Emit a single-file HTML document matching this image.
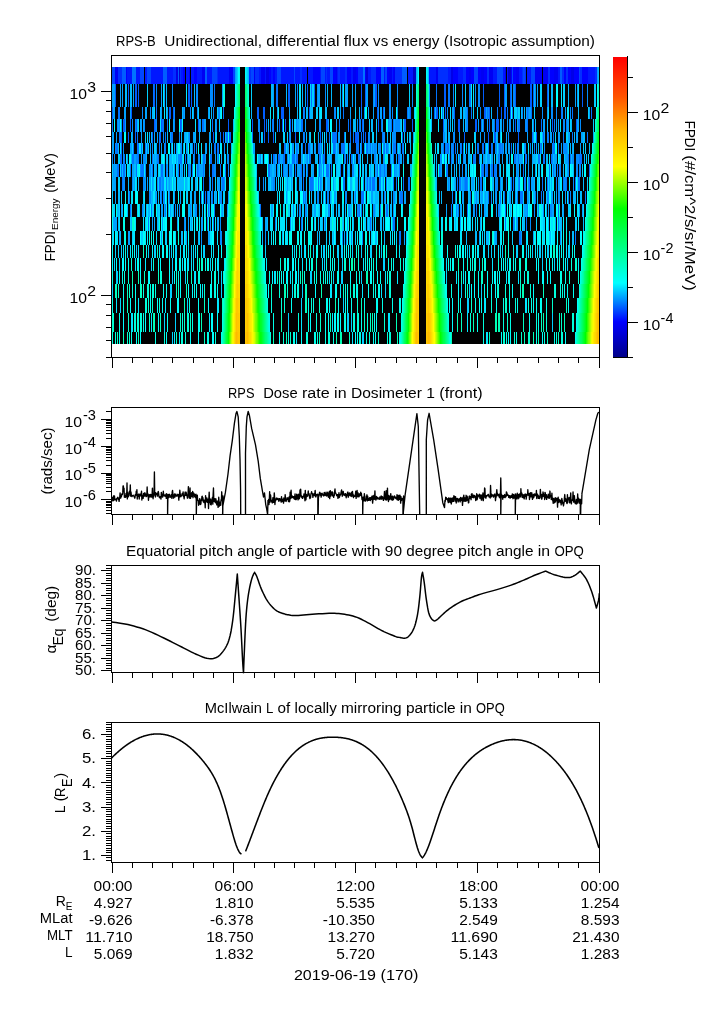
<!DOCTYPE html>
<html><head><meta charset="utf-8"><style>html,body{margin:0;padding:0;background:#fff;overflow:hidden}svg{display:block;will-change:transform}</style></head>
<body><svg width="725" height="1019" viewBox="0 0 725 1019">
<defs><linearGradient id="cb" x1="0" y1="1" x2="0" y2="0"><stop offset="0.0000" stop-color="rgb(0,0,137)"/><stop offset="0.1176" stop-color="rgb(0,0,255)"/><stop offset="0.2471" stop-color="rgb(0,255,255)"/><stop offset="0.4941" stop-color="rgb(0,255,0)"/><stop offset="0.6353" stop-color="rgb(255,255,0)"/><stop offset="0.7529" stop-color="rgb(255,185,0)"/><stop offset="0.8667" stop-color="rgb(255,84,0)"/><stop offset="1.0000" stop-color="rgb(255,0,0)"/></linearGradient></defs>
<rect width="725" height="1019" fill="#fff"/>
<rect x="112" y="67" width="487" height="277" fill="#000"/><path fill="#0046ff" d="M112 67h3v17h-3zM140 67h4v17h-4zM147 67h4v17h-4zM212 67h5v17h-5zM233 67h2v17h-2zM251 67h3v17h-3zM277 67h4v17h-4zM294 67h1v17h-1zM321 67h4v17h-4zM330 67h3v17h-3zM385 67h2v17h-2zM474 67h4v17h-4zM497 67h6v17h-6zM512 67h1v17h-1zM523 67h2v17h-2zM531 67h4v17h-4zM579 67h1v17h-1z"/><path fill="#0000f3" d="M115 67h3v17h-3zM202 67h3v17h-3zM229 67h4v17h-4zM254 67h1v17h-1zM261 67h4v17h-4zM336 67h1v17h-1zM353 67h3v17h-3zM389 67h3v17h-3zM394 67h1v17h-1zM436 67h2v17h-2zM469 67h2v17h-2zM481 67h3v17h-3zM489 67h4v17h-4zM505 67h1v17h-1zM516 67h3v17h-3zM535 67h7v17h-7zM543 67h5v17h-5zM554 67h4v17h-4z"/><path fill="#002eff" d="M118 67h4v17h-4zM173 67h3v17h-3zM180 67h1v17h-1zM217 67h1v17h-1zM249 67h2v17h-2zM255 67h4v17h-4zM300 67h2v17h-2zM326 67h1v17h-1zM338 67h2v17h-2zM345 67h2v17h-2zM358 67h5v17h-5zM371 67h5v17h-5zM395 67h7v17h-7zM438 67h10v17h-10zM463 67h3v17h-3zM487 67h2v17h-2zM522 67h1v17h-1zM525 67h1v17h-1zM548 67h2v17h-2zM562 67h2v17h-2zM566 67h2v17h-2zM580 67h2v17h-2zM595 67h2v17h-2z"/><path fill="#005dff" d="M122 67h4v17h-4zM163 67h4v17h-4zM178 67h1v17h-1zM205 67h2v17h-2zM381 67h3v17h-3zM402 67h5v17h-5zM560 67h2v17h-2zM115 84h1v23h-1zM128 84h1v23h-1zM135 84h2v23h-2zM138 84h1v23h-1zM154 84h1v23h-1zM188 84h2v23h-2zM191 84h1v23h-1zM288 84h2v23h-2zM307 84h1v23h-1zM314 84h1v23h-1zM361 84h1v23h-1zM365 84h1v23h-1zM375 84h2v23h-2zM444 84h2v23h-2zM483 84h1v23h-1zM499 84h1v23h-1zM504 84h1v23h-1zM510 84h1v23h-1zM515 84h1v23h-1zM530 84h2v23h-2zM533 84h1v23h-1zM547 84h1v23h-1zM582 84h1v23h-1zM112 107h1v12h-1zM131 107h1v12h-1zM169 107h2v12h-2zM173 107h1v12h-1zM257 107h2v12h-2zM263 107h2v12h-2zM281 107h3v12h-3zM309 107h1v12h-1zM377 107h1v12h-1zM383 107h1v12h-1zM410 107h1v12h-1zM434 107h1v12h-1zM436 107h2v12h-2zM445 107h1v12h-1zM454 107h1v12h-1zM484 107h2v12h-2zM489 107h1v12h-1zM501 107h1v12h-1zM504 107h2v12h-2zM510 107h1v12h-1zM123 119h2v13h-2zM130 119h1v13h-1zM136 119h1v13h-1zM154 119h1v13h-1zM161 119h1v13h-1zM180 119h1v13h-1zM198 119h1v13h-1zM228 119h1v13h-1zM252 119h1v13h-1zM264 119h1v13h-1zM279 119h1v13h-1zM282 119h1v13h-1zM285 119h1v13h-1zM290 119h1v13h-1zM326 119h2v13h-2zM350 119h1v13h-1zM362 119h1v13h-1zM378 119h1v13h-1zM404 119h2v13h-2zM412 119h1v13h-1zM443 119h1v13h-1zM458 119h2v13h-2zM475 119h2v13h-2zM489 119h1v13h-1zM496 119h3v13h-3zM515 119h1v13h-1zM552 119h1v13h-1zM576 119h1v13h-1zM121 132h1v11h-1zM128 132h1v11h-1zM135 132h1v11h-1zM152 132h1v11h-1zM160 132h1v11h-1zM213 132h1v11h-1zM223 132h1v11h-1zM229 132h2v11h-2zM264 132h1v11h-1zM268 132h1v11h-1zM273 132h1v11h-1zM295 132h1v11h-1zM320 132h1v11h-1zM355 132h3v11h-3zM365 132h1v11h-1zM402 132h1v11h-1zM464 132h1v11h-1zM488 132h1v11h-1zM494 132h2v11h-2zM518 132h1v11h-1zM536 132h1v11h-1zM543 132h1v11h-1z"/><path fill="#0000ff" d="M126 67h1v17h-1zM183 67h2v17h-2zM189 67h1v17h-1zM194 67h3v17h-3zM269 67h2v17h-2zM273 67h2v17h-2zM313 67h7v17h-7zM333 67h3v17h-3zM347 67h4v17h-4zM356 67h2v17h-2zM365 67h1v17h-1zM376 67h5v17h-5zM387 67h2v17h-2zM393 67h1v17h-1zM453 67h5v17h-5zM466 67h3v17h-3zM471 67h3v17h-3zM478 67h3v17h-3zM484 67h3v17h-3zM511 67h1v17h-1zM513 67h3v17h-3zM550 67h4v17h-4zM564 67h2v17h-2zM568 67h3v17h-3zM574 67h5v17h-5zM582 67h6v17h-6z"/><path fill="#0017ff" d="M127 67h5v17h-5zM136 67h4v17h-4zM145 67h2v17h-2zM151 67h12v17h-12zM167 67h6v17h-6zM181 67h2v17h-2zM186 67h3v17h-3zM191 67h3v17h-3zM197 67h5v17h-5zM207 67h5v17h-5zM218 67h11v17h-11zM259 67h2v17h-2zM265 67h1v17h-1zM271 67h2v17h-2zM275 67h2v17h-2zM281 67h13v17h-13zM295 67h5v17h-5zM302 67h5v17h-5zM308 67h5v17h-5zM320 67h1v17h-1zM325 67h1v17h-1zM327 67h3v17h-3zM337 67h1v17h-1zM340 67h5v17h-5zM351 67h2v17h-2zM368 67h3v17h-3zM384 67h1v17h-1zM392 67h1v17h-1zM408 67h5v17h-5zM429 67h7v17h-7zM448 67h3v17h-3zM458 67h5v17h-5zM493 67h4v17h-4zM503 67h2v17h-2zM507 67h1v17h-1zM519 67h3v17h-3zM527 67h4v17h-4zM558 67h2v17h-2zM588 67h7v17h-7z"/><path fill="#0074ff" d="M132 67h4v17h-4zM363 67h2v17h-2zM153 84h1v23h-1zM214 84h1v23h-1zM276 84h2v23h-2zM311 84h1v23h-1zM436 84h1v23h-1zM448 84h2v23h-2zM469 84h2v23h-2zM118 107h2v12h-2zM156 107h1v12h-1zM223 107h1v12h-1zM304 107h1v12h-1zM343 107h1v12h-1zM361 107h1v12h-1zM407 107h1v12h-1zM442 107h1v12h-1zM467 107h1v12h-1zM471 107h1v12h-1zM487 107h1v12h-1zM497 107h1v12h-1zM507 107h1v12h-1zM512 107h1v12h-1zM527 107h1v12h-1zM531 107h1v12h-1zM561 107h1v12h-1zM572 107h1v12h-1zM591 107h1v12h-1zM112 119h1v13h-1zM155 119h1v13h-1zM162 119h2v13h-2zM167 119h1v13h-1zM181 119h1v13h-1zM202 119h2v13h-2zM212 119h1v13h-1zM266 119h1v13h-1zM272 119h1v13h-1zM301 119h2v13h-2zM339 119h1v13h-1zM348 119h1v13h-1zM359 119h1v13h-1zM381 119h1v13h-1zM391 119h1v13h-1zM393 119h1v13h-1zM481 119h1v13h-1zM483 119h1v13h-1zM494 119h1v13h-1zM518 119h2v13h-2zM527 119h1v13h-1zM541 119h1v13h-1zM554 119h1v13h-1zM566 119h1v13h-1zM119 132h2v11h-2zM137 132h1v11h-1zM159 132h1v11h-1zM165 132h1v11h-1zM171 132h2v11h-2zM220 132h1v11h-1zM226 132h2v11h-2zM252 132h1v11h-1zM289 132h1v11h-1zM304 132h1v11h-1zM329 132h1v11h-1zM332 132h5v11h-5zM344 132h1v11h-1zM350 132h1v11h-1zM353 132h1v11h-1zM358 132h1v11h-1zM361 132h1v11h-1zM363 132h1v11h-1zM382 132h1v11h-1zM532 132h1v11h-1zM548 132h1v11h-1zM553 132h1v11h-1zM563 132h1v11h-1zM572 132h1v11h-1zM587 132h1v11h-1zM116 143h2v11h-2zM121 143h1v11h-1zM133 143h1v11h-1zM137 143h2v11h-2zM141 143h1v11h-1zM145 143h1v11h-1zM147 143h1v11h-1zM159 143h1v11h-1zM165 143h1v11h-1zM194 143h1v11h-1zM214 143h2v11h-2zM217 143h2v11h-2zM284 143h2v11h-2zM296 143h1v11h-1zM302 143h1v11h-1zM305 143h1v11h-1zM308 143h2v11h-2zM318 143h2v11h-2zM321 143h1v11h-1zM333 143h2v11h-2zM341 143h4v11h-4zM356 143h3v11h-3zM361 143h1v11h-1zM366 143h2v11h-2zM370 143h1v11h-1zM384 143h1v11h-1zM386 143h1v11h-1zM393 143h3v11h-3zM402 143h1v11h-1zM443 143h1v11h-1zM445 143h1v11h-1zM447 143h2v11h-2zM453 143h1v11h-1zM455 143h1v11h-1zM461 143h1v11h-1zM463 143h1v11h-1zM477 143h2v11h-2zM482 143h2v11h-2zM488 143h1v11h-1zM491 143h2v11h-2zM499 143h2v11h-2zM502 143h1v11h-1zM511 143h1v11h-1zM515 143h1v11h-1zM534 143h1v11h-1zM541 143h1v11h-1zM553 143h2v11h-2zM558 143h1v11h-1zM120 154h2v10h-2zM124 154h1v10h-1zM132 154h2v10h-2zM138 154h1v10h-1zM152 154h1v10h-1zM158 154h1v10h-1zM180 154h2v10h-2zM185 154h1v10h-1zM194 154h1v10h-1zM203 154h2v10h-2zM210 154h2v10h-2zM218 154h1v10h-1zM273 154h2v10h-2zM278 154h2v10h-2zM283 154h2v10h-2zM292 154h3v10h-3zM296 154h2v10h-2zM309 154h2v10h-2zM319 154h2v10h-2zM323 154h2v10h-2zM344 154h1v10h-1zM347 154h1v10h-1zM351 154h1v10h-1zM358 154h2v10h-2zM393 154h1v10h-1zM398 154h2v10h-2zM451 154h1v10h-1zM459 154h1v10h-1zM473 154h2v10h-2zM479 154h1v10h-1zM498 154h1v10h-1zM514 154h2v10h-2zM518 154h1v10h-1zM525 154h2v10h-2zM538 154h2v10h-2zM543 154h2v10h-2zM551 154h1v10h-1zM568 154h1v10h-1zM570 154h1v10h-1zM579 154h3v10h-3zM117 164h2v13h-2zM121 164h1v13h-1zM123 164h2v13h-2zM130 164h1v13h-1zM136 164h1v13h-1zM141 164h3v13h-3zM152 164h1v13h-1zM161 164h2v13h-2zM166 164h1v13h-1zM178 164h1v13h-1zM188 164h1v13h-1zM192 164h1v13h-1zM197 164h1v13h-1zM203 164h1v13h-1zM212 164h2v13h-2zM220 164h1v13h-1zM225 164h1v13h-1zM268 164h2v13h-2zM283 164h1v13h-1zM295 164h1v13h-1zM301 164h1v13h-1zM304 164h1v13h-1zM307 164h1v13h-1zM319 164h1v13h-1zM323 164h1v13h-1zM326 164h3v13h-3zM331 164h1v13h-1zM340 164h1v13h-1zM343 164h1v13h-1zM359 164h1v13h-1zM377 164h1v13h-1zM380 164h1v13h-1zM384 164h1v13h-1zM391 164h1v13h-1zM399 164h1v13h-1zM439 164h1v13h-1zM446 164h2v13h-2zM482 164h2v13h-2zM486 164h2v13h-2zM491 164h2v13h-2zM494 164h2v13h-2zM523 164h1v13h-1zM549 164h1v13h-1zM553 164h1v13h-1zM557 164h1v13h-1zM589 164h1v13h-1zM122 177h1v14h-1zM159 177h2v14h-2zM203 177h1v14h-1zM209 177h1v14h-1zM212 177h1v14h-1zM222 177h2v14h-2zM303 177h1v14h-1zM310 177h3v14h-3zM318 177h1v14h-1zM343 177h2v14h-2zM367 177h1v14h-1zM370 177h1v14h-1zM372 177h3v14h-3zM386 177h1v14h-1zM393 177h1v14h-1zM396 177h1v14h-1zM403 177h1v14h-1zM408 177h2v14h-2zM457 177h1v14h-1zM459 177h2v14h-2zM465 177h2v14h-2zM480 177h2v14h-2zM511 177h1v14h-1zM513 177h1v14h-1zM519 177h1v14h-1zM524 177h2v14h-2zM529 177h1v14h-1zM542 177h1v14h-1zM547 177h1v14h-1zM556 177h1v14h-1zM563 177h1v14h-1zM566 177h1v14h-1zM575 177h1v14h-1zM578 177h2v14h-2zM129 191h1v13h-1zM161 191h1v13h-1zM169 191h1v13h-1zM205 191h1v13h-1zM207 191h1v13h-1zM212 191h1v13h-1zM303 191h1v13h-1zM305 191h1v13h-1zM355 191h1v13h-1zM361 191h3v13h-3zM384 191h1v13h-1zM400 191h3v13h-3zM470 191h1v13h-1zM488 191h1v13h-1zM500 191h1v13h-1zM504 191h1v13h-1zM517 191h1v13h-1zM520 191h3v13h-3zM535 191h1v13h-1zM541 191h1v13h-1zM568 191h1v13h-1zM585 191h1v13h-1zM130 204h1v13h-1zM151 204h1v13h-1zM165 204h1v13h-1zM208 204h1v13h-1zM214 204h1v13h-1zM260 204h1v13h-1zM359 204h1v13h-1zM361 204h1v13h-1zM380 204h1v13h-1zM386 204h2v13h-2zM451 204h1v13h-1zM458 204h1v13h-1zM467 204h1v13h-1zM476 204h1v13h-1zM505 204h1v13h-1zM558 204h1v13h-1zM148 217h1v14h-1zM207 217h1v14h-1zM213 217h1v14h-1zM275 217h1v14h-1zM301 217h1v14h-1zM325 217h1v14h-1zM370 217h1v14h-1zM393 217h2v14h-2zM505 217h1v14h-1zM526 217h1v14h-1zM558 217h1v14h-1zM399 231h2v14h-2zM519 231h2v14h-2zM575 231h1v14h-1z"/><path fill="#0000e7" d="M176 67h2v17h-2zM266 67h3v17h-3zM451 67h2v17h-2zM571 67h3v17h-3z"/><path fill="#0000d0" d="M179 67h1v17h-1zM508 67h3v17h-3z"/><path fill="#00a2ff" d="M235 67h1v17h-1zM597 67h1v17h-1zM112 84h3v23h-3zM120 84h1v23h-1zM122 84h1v23h-1zM133 84h1v23h-1zM161 84h1v23h-1zM164 84h1v23h-1zM222 84h1v23h-1zM273 84h1v23h-1zM295 84h1v23h-1zM305 84h1v23h-1zM318 84h2v23h-2zM345 84h3v23h-3zM352 84h1v23h-1zM355 84h1v23h-1zM366 84h2v23h-2zM374 84h1v23h-1zM505 84h2v23h-2zM537 84h1v23h-1zM548 84h1v23h-1zM575 84h1v23h-1zM577 84h1v23h-1zM113 107h2v12h-2zM124 107h2v12h-2zM130 107h1v12h-1zM145 107h2v12h-2zM161 107h1v12h-1zM167 107h1v12h-1zM184 107h1v12h-1zM193 107h1v12h-1zM208 107h1v12h-1zM277 107h1v12h-1zM289 107h1v12h-1zM340 107h1v12h-1zM350 107h1v12h-1zM368 107h1v12h-1zM373 107h1v12h-1zM380 107h2v12h-2zM384 107h1v12h-1zM408 107h1v12h-1zM452 107h2v12h-2zM465 107h2v12h-2zM486 107h1v12h-1zM517 107h1v12h-1zM526 107h1v12h-1zM529 107h2v12h-2zM547 107h1v12h-1zM565 107h1v12h-1zM589 107h1v12h-1zM118 119h1v13h-1zM121 119h1v13h-1zM125 119h1v13h-1zM140 119h2v13h-2zM143 119h1v13h-1zM173 119h1v13h-1zM199 119h2v13h-2zM204 119h2v13h-2zM215 119h1v13h-1zM277 119h1v13h-1zM292 119h1v13h-1zM297 119h2v13h-2zM305 119h1v13h-1zM328 119h1v13h-1zM336 119h1v13h-1zM382 119h1v13h-1zM389 119h2v13h-2zM394 119h1v13h-1zM478 119h1v13h-1zM487 119h1v13h-1zM492 119h2v13h-2zM501 119h1v13h-1zM507 119h1v13h-1zM513 119h1v13h-1zM517 119h1v13h-1zM543 119h2v13h-2zM556 119h1v13h-1zM558 119h1v13h-1zM567 119h2v13h-2zM577 119h2v13h-2zM112 132h2v11h-2zM116 132h1v11h-1zM132 132h1v11h-1zM141 132h1v11h-1zM154 132h1v11h-1zM157 132h1v11h-1zM170 132h1v11h-1zM184 132h1v11h-1zM188 132h1v11h-1zM193 132h2v11h-2zM209 132h2v11h-2zM290 132h1v11h-1zM318 132h1v11h-1zM326 132h1v11h-1zM338 132h2v11h-2zM392 132h1v11h-1zM413 132h1v11h-1zM459 132h1v11h-1zM480 132h1v11h-1zM497 132h1v11h-1zM506 132h1v11h-1zM527 132h1v11h-1zM533 132h1v11h-1zM544 132h1v11h-1zM550 132h2v11h-2zM558 132h2v11h-2zM568 132h2v11h-2zM576 132h2v11h-2zM581 132h2v11h-2zM593 132h1v11h-1zM112 143h2v11h-2zM130 143h2v11h-2zM150 143h1v11h-1zM156 143h1v11h-1zM161 143h1v11h-1zM171 143h1v11h-1zM176 143h1v11h-1zM180 143h1v11h-1zM183 143h1v11h-1zM186 143h2v11h-2zM205 143h2v11h-2zM253 143h2v11h-2zM287 143h2v11h-2zM293 143h1v11h-1zM310 143h1v11h-1zM312 143h1v11h-1zM314 143h2v11h-2zM320 143h1v11h-1zM337 143h2v11h-2zM350 143h1v11h-1zM368 143h2v11h-2zM373 143h1v11h-1zM376 143h1v11h-1zM378 143h1v11h-1zM388 143h1v11h-1zM390 143h1v11h-1zM441 143h2v11h-2zM457 143h1v11h-1zM466 143h1v11h-1zM498 143h1v11h-1zM503 143h1v11h-1zM505 143h2v11h-2zM508 143h2v11h-2zM536 143h1v11h-1zM561 143h1v11h-1zM567 143h1v11h-1zM572 143h1v11h-1zM580 143h1v11h-1zM127 154h1v10h-1zM134 154h2v10h-2zM141 154h1v10h-1zM154 154h1v10h-1zM156 154h1v10h-1zM169 154h1v10h-1zM176 154h1v10h-1zM193 154h1v10h-1zM205 154h1v10h-1zM215 154h1v10h-1zM217 154h1v10h-1zM262 154h1v10h-1zM268 154h1v10h-1zM275 154h2v10h-2zM280 154h3v10h-3zM289 154h1v10h-1zM301 154h2v10h-2zM306 154h1v10h-1zM322 154h1v10h-1zM331 154h1v10h-1zM335 154h1v10h-1zM379 154h1v10h-1zM384 154h1v10h-1zM396 154h1v10h-1zM400 154h2v10h-2zM452 154h2v10h-2zM464 154h2v10h-2zM483 154h2v10h-2zM487 154h3v10h-3zM491 154h2v10h-2zM502 154h1v10h-1zM516 154h2v10h-2zM519 154h4v10h-4zM528 154h1v10h-1zM532 154h1v10h-1zM554 154h3v10h-3zM565 154h3v10h-3zM114 164h3v13h-3zM132 164h2v13h-2zM156 164h1v13h-1zM167 164h1v13h-1zM169 164h1v13h-1zM172 164h1v13h-1zM174 164h1v13h-1zM199 164h4v13h-4zM204 164h1v13h-1zM270 164h2v13h-2zM274 164h2v13h-2zM284 164h3v13h-3zM289 164h1v13h-1zM297 164h3v13h-3zM303 164h1v13h-1zM312 164h2v13h-2zM320 164h2v13h-2zM370 164h1v13h-1zM375 164h2v13h-2zM381 164h3v13h-3zM385 164h2v13h-2zM395 164h2v13h-2zM436 164h1v13h-1zM441 164h1v13h-1zM454 164h1v13h-1zM459 164h1v13h-1zM465 164h2v13h-2zM516 164h1v13h-1zM518 164h1v13h-1zM528 164h1v13h-1zM535 164h1v13h-1zM554 164h2v13h-2zM567 164h1v13h-1zM113 177h3v14h-3zM134 177h1v14h-1zM145 177h1v14h-1zM147 177h1v14h-1zM150 177h1v14h-1zM152 177h1v14h-1zM161 177h1v14h-1zM169 177h1v14h-1zM218 177h2v14h-2zM221 177h1v14h-1zM271 177h2v14h-2zM287 177h1v14h-1zM291 177h1v14h-1zM296 177h1v14h-1zM299 177h1v14h-1zM301 177h1v14h-1zM309 177h1v14h-1zM321 177h1v14h-1zM325 177h1v14h-1zM327 177h3v14h-3zM333 177h1v14h-1zM357 177h1v14h-1zM359 177h1v14h-1zM366 177h1v14h-1zM449 177h1v14h-1zM455 177h1v14h-1zM462 177h2v14h-2zM472 177h2v14h-2zM502 177h1v14h-1zM531 177h3v14h-3zM549 177h1v14h-1zM558 177h2v14h-2zM115 191h1v13h-1zM155 191h2v13h-2zM160 191h1v13h-1zM174 191h1v13h-1zM180 191h1v13h-1zM194 191h2v13h-2zM208 191h2v13h-2zM211 191h1v13h-1zM215 191h1v13h-1zM228 191h1v13h-1zM286 191h1v13h-1zM304 191h1v13h-1zM323 191h1v13h-1zM330 191h1v13h-1zM334 191h2v13h-2zM371 191h2v13h-2zM381 191h1v13h-1zM399 191h1v13h-1zM404 191h2v13h-2zM462 191h2v13h-2zM481 191h2v13h-2zM485 191h1v13h-1zM496 191h1v13h-1zM509 191h2v13h-2zM515 191h1v13h-1zM527 191h2v13h-2zM543 191h1v13h-1zM551 191h2v13h-2zM556 191h1v13h-1zM565 191h1v13h-1zM121 204h1v13h-1zM143 204h1v13h-1zM161 204h2v13h-2zM164 204h1v13h-1zM168 204h1v13h-1zM170 204h1v13h-1zM173 204h1v13h-1zM222 204h1v13h-1zM227 204h1v13h-1zM271 204h2v13h-2zM314 204h2v13h-2zM348 204h2v13h-2zM446 204h1v13h-1zM460 204h2v13h-2zM473 204h1v13h-1zM484 204h2v13h-2zM496 204h1v13h-1zM524 204h3v13h-3zM548 204h1v13h-1zM552 204h2v13h-2zM563 204h1v13h-1zM579 204h1v13h-1zM582 204h1v13h-1zM113 217h4v14h-4zM152 217h1v14h-1zM154 217h1v14h-1zM162 217h1v14h-1zM177 217h1v14h-1zM185 217h1v14h-1zM188 217h1v14h-1zM191 217h1v14h-1zM201 217h2v14h-2zM210 217h1v14h-1zM217 217h1v14h-1zM265 217h2v14h-2zM347 217h1v14h-1zM367 217h1v14h-1zM460 217h1v14h-1zM480 217h1v14h-1zM516 217h2v14h-2zM555 217h1v14h-1zM119 231h1v14h-1zM128 231h2v14h-2zM186 231h1v14h-1zM208 231h2v14h-2zM344 231h1v14h-1zM404 231h1v14h-1zM479 231h1v14h-1zM495 231h2v14h-2zM521 231h1v14h-1zM533 231h1v14h-1z"/><path fill="#00b9ff" d="M236 67h1v17h-1zM248 67h1v17h-1zM416 67h1v17h-1zM428 67h1v17h-1zM598 67h1v17h-1zM125 84h2v23h-2zM130 84h2v23h-2zM166 84h1v23h-1zM194 84h1v23h-1zM271 84h2v23h-2zM286 84h1v23h-1zM302 84h1v23h-1zM327 84h1v23h-1zM331 84h1v23h-1zM340 84h1v23h-1zM534 84h1v23h-1zM551 84h2v23h-2zM568 84h1v23h-1zM152 107h2v12h-2zM160 107h1v12h-1zM182 107h1v12h-1zM209 107h1v12h-1zM211 107h1v12h-1zM251 107h1v12h-1zM297 107h1v12h-1zM306 107h2v12h-2zM310 107h3v12h-3zM325 107h2v12h-2zM359 107h1v12h-1zM431 107h1v12h-1zM435 107h1v12h-1zM460 107h2v12h-2zM463 107h2v12h-2zM491 107h1v12h-1zM521 107h1v12h-1zM524 107h1v12h-1zM578 107h1v12h-1zM137 119h1v13h-1zM233 119h1v13h-1zM268 119h1v13h-1zM270 119h1v13h-1zM299 119h2v13h-2zM315 119h1v13h-1zM353 119h3v13h-3zM371 119h2v13h-2zM400 119h1v13h-1zM431 119h1v13h-1zM444 119h3v13h-3zM450 119h1v13h-1zM463 119h1v13h-1zM465 119h1v13h-1zM482 119h1v13h-1zM500 119h1v13h-1zM535 119h1v13h-1zM547 119h1v13h-1zM571 119h1v13h-1zM131 132h1v11h-1zM149 132h1v11h-1zM151 132h1v11h-1zM167 132h1v11h-1zM181 132h1v11h-1zM185 132h2v11h-2zM195 132h1v11h-1zM199 132h1v11h-1zM225 132h1v11h-1zM262 132h1v11h-1zM306 132h1v11h-1zM309 132h1v11h-1zM322 132h1v11h-1zM376 132h1v11h-1zM387 132h1v11h-1zM404 132h1v11h-1zM409 132h2v11h-2zM445 132h2v11h-2zM448 132h2v11h-2zM496 132h1v11h-1zM500 132h1v11h-1zM542 132h1v11h-1zM574 132h1v11h-1zM583 132h2v11h-2zM118 143h1v11h-1zM190 143h2v11h-2zM211 143h1v11h-1zM231 143h1v11h-1zM298 143h1v11h-1zM301 143h1v11h-1zM311 143h1v11h-1zM360 143h1v11h-1zM371 143h1v11h-1zM392 143h1v11h-1zM399 143h1v11h-1zM410 143h1v11h-1zM449 143h1v11h-1zM468 143h2v11h-2zM475 143h1v11h-1zM538 143h1v11h-1zM570 143h1v11h-1zM573 143h1v11h-1zM589 143h1v11h-1zM131 154h1v10h-1zM146 154h1v10h-1zM153 154h1v10h-1zM155 154h1v10h-1zM166 154h1v10h-1zM170 154h2v10h-2zM189 154h1v10h-1zM202 154h1v10h-1zM221 154h1v10h-1zM254 154h1v10h-1zM258 154h2v10h-2zM264 154h1v10h-1zM271 154h1v10h-1zM295 154h1v10h-1zM304 154h2v10h-2zM315 154h3v10h-3zM327 154h4v10h-4zM336 154h2v10h-2zM349 154h1v10h-1zM355 154h1v10h-1zM367 154h1v10h-1zM371 154h1v10h-1zM376 154h2v10h-2zM380 154h1v10h-1zM391 154h2v10h-2zM436 154h1v10h-1zM468 154h3v10h-3zM485 154h1v10h-1zM496 154h2v10h-2zM506 154h2v10h-2zM533 154h3v10h-3zM546 154h2v10h-2zM553 154h1v10h-1zM571 154h1v10h-1zM584 154h1v10h-1zM122 164h1v13h-1zM125 164h1v13h-1zM134 164h2v13h-2zM151 164h1v13h-1zM154 164h2v13h-2zM160 164h1v13h-1zM163 164h2v13h-2zM170 164h2v13h-2zM177 164h1v13h-1zM180 164h1v13h-1zM182 164h1v13h-1zM184 164h1v13h-1zM209 164h1v13h-1zM272 164h2v13h-2zM278 164h1v13h-1zM292 164h1v13h-1zM306 164h1v13h-1zM311 164h1v13h-1zM318 164h1v13h-1zM329 164h1v13h-1zM336 164h1v13h-1zM349 164h1v13h-1zM362 164h1v13h-1zM365 164h2v13h-2zM397 164h2v13h-2zM410 164h2v13h-2zM451 164h1v13h-1zM490 164h1v13h-1zM520 164h1v13h-1zM539 164h1v13h-1zM563 164h1v13h-1zM573 164h1v13h-1zM112 177h1v14h-1zM128 177h1v14h-1zM133 177h1v14h-1zM138 177h1v14h-1zM149 177h1v14h-1zM153 177h1v14h-1zM168 177h1v14h-1zM170 177h2v14h-2zM173 177h1v14h-1zM177 177h7v14h-7zM185 177h2v14h-2zM195 177h2v14h-2zM199 177h1v14h-1zM210 177h1v14h-1zM217 177h1v14h-1zM256 177h1v14h-1zM259 177h1v14h-1zM265 177h1v14h-1zM268 177h2v14h-2zM276 177h1v14h-1zM306 177h1v14h-1zM347 177h1v14h-1zM350 177h2v14h-2zM355 177h2v14h-2zM365 177h1v14h-1zM368 177h1v14h-1zM371 177h1v14h-1zM375 177h2v14h-2zM436 177h1v14h-1zM447 177h1v14h-1zM454 177h1v14h-1zM461 177h1v14h-1zM469 177h1v14h-1zM471 177h1v14h-1zM484 177h1v14h-1zM492 177h2v14h-2zM501 177h1v14h-1zM510 177h1v14h-1zM515 177h1v14h-1zM534 177h1v14h-1zM551 177h1v14h-1zM583 177h1v14h-1zM118 191h2v13h-2zM128 191h1v13h-1zM151 191h2v13h-2zM158 191h1v13h-1zM190 191h2v13h-2zM214 191h1v13h-1zM216 191h1v13h-1zM306 191h1v13h-1zM311 191h1v13h-1zM314 191h2v13h-2zM351 191h2v13h-2zM354 191h1v13h-1zM365 191h1v13h-1zM375 191h3v13h-3zM382 191h1v13h-1zM385 191h1v13h-1zM391 191h1v13h-1zM395 191h1v13h-1zM439 191h1v13h-1zM441 191h1v13h-1zM468 191h2v13h-2zM474 191h2v13h-2zM477 191h2v13h-2zM480 191h1v13h-1zM484 191h1v13h-1zM486 191h2v13h-2zM533 191h2v13h-2zM537 191h1v13h-1zM573 191h3v13h-3zM580 191h2v13h-2zM117 204h2v13h-2zM122 204h1v13h-1zM127 204h1v13h-1zM131 204h1v13h-1zM146 204h1v13h-1zM148 204h2v13h-2zM157 204h1v13h-1zM177 204h1v13h-1zM188 204h2v13h-2zM191 204h1v13h-1zM194 204h1v13h-1zM199 204h1v13h-1zM202 204h1v13h-1zM205 204h1v13h-1zM209 204h1v13h-1zM221 204h1v13h-1zM297 204h1v13h-1zM312 204h1v13h-1zM319 204h1v13h-1zM332 204h1v13h-1zM336 204h1v13h-1zM338 204h2v13h-2zM345 204h1v13h-1zM350 204h2v13h-2zM365 204h1v13h-1zM375 204h1v13h-1zM390 204h2v13h-2zM457 204h1v13h-1zM470 204h1v13h-1zM481 204h1v13h-1zM486 204h2v13h-2zM500 204h1v13h-1zM510 204h1v13h-1zM546 204h1v13h-1zM562 204h1v13h-1zM118 217h1v14h-1zM131 217h1v14h-1zM157 217h1v14h-1zM218 217h1v14h-1zM262 217h1v14h-1zM267 217h1v14h-1zM302 217h1v14h-1zM314 217h1v14h-1zM318 217h1v14h-1zM322 217h1v14h-1zM324 217h1v14h-1zM343 217h1v14h-1zM353 217h1v14h-1zM369 217h1v14h-1zM371 217h1v14h-1zM373 217h1v14h-1zM380 217h2v14h-2zM383 217h1v14h-1zM392 217h1v14h-1zM455 217h1v14h-1zM523 217h2v14h-2zM548 217h1v14h-1zM560 217h2v14h-2zM583 217h1v14h-1zM120 231h1v14h-1zM181 231h2v14h-2zM198 231h1v14h-1zM262 231h1v14h-1zM282 231h1v14h-1zM317 231h1v14h-1zM319 231h1v14h-1zM333 231h1v14h-1zM375 231h2v14h-2zM384 231h1v14h-1zM466 231h1v14h-1zM475 231h2v14h-2zM486 231h3v14h-3zM494 231h1v14h-1zM550 231h1v14h-1zM572 231h2v14h-2z"/><path fill="#00d1ff" d="M237 67h1v17h-1zM247 67h1v17h-1zM417 67h1v17h-1zM147 84h1v23h-1zM251 84h1v23h-1zM310 84h1v23h-1zM312 84h2v23h-2zM409 84h1v23h-1zM465 84h1v23h-1zM540 84h2v23h-2zM563 84h2v23h-2zM578 84h1v23h-1zM594 84h2v23h-2zM154 107h1v12h-1zM166 107h1v12h-1zM192 107h1v12h-1zM198 107h1v12h-1zM217 107h1v12h-1zM299 107h1v12h-1zM316 107h2v12h-2zM319 107h1v12h-1zM337 107h2v12h-2zM355 107h1v12h-1zM414 107h1v12h-1zM439 107h1v12h-1zM443 107h1v12h-1zM473 107h1v12h-1zM477 107h1v12h-1zM514 107h3v12h-3zM518 107h2v12h-2zM534 107h1v12h-1zM548 107h1v12h-1zM588 107h1v12h-1zM138 119h1v13h-1zM219 119h1v13h-1zM294 119h2v13h-2zM369 119h1v13h-1zM376 119h1v13h-1zM401 119h1v13h-1zM403 119h1v13h-1zM452 119h1v13h-1zM532 119h1v13h-1zM550 119h1v13h-1zM570 119h1v13h-1zM593 119h1v13h-1zM145 132h1v11h-1zM187 132h1v11h-1zM215 132h2v11h-2zM261 132h1v11h-1zM275 132h1v11h-1zM283 132h2v11h-2zM287 132h1v11h-1zM310 132h1v11h-1zM345 132h1v11h-1zM372 132h2v11h-2zM390 132h1v11h-1zM407 132h1v11h-1zM474 132h2v11h-2zM493 132h1v11h-1zM555 132h1v11h-1zM566 132h2v11h-2zM132 143h1v11h-1zM142 143h1v11h-1zM146 143h1v11h-1zM148 143h1v11h-1zM154 143h2v11h-2zM177 143h1v11h-1zM209 143h1v11h-1zM227 143h1v11h-1zM279 143h2v11h-2zM286 143h1v11h-1zM295 143h1v11h-1zM329 143h1v11h-1zM336 143h1v11h-1zM345 143h3v11h-3zM385 143h1v11h-1zM398 143h1v11h-1zM435 143h1v11h-1zM437 143h1v11h-1zM486 143h2v11h-2zM497 143h1v11h-1zM513 143h1v11h-1zM532 143h1v11h-1zM568 143h1v11h-1zM583 143h1v11h-1zM585 143h1v11h-1zM118 154h2v10h-2zM150 154h1v10h-1zM164 154h1v10h-1zM167 154h1v10h-1zM173 154h2v10h-2zM177 154h1v10h-1zM182 154h1v10h-1zM188 154h1v10h-1zM224 154h2v10h-2zM288 154h1v10h-1zM291 154h1v10h-1zM308 154h1v10h-1zM321 154h1v10h-1zM338 154h4v10h-4zM360 154h1v10h-1zM362 154h1v10h-1zM407 154h2v10h-2zM412 154h1v10h-1zM434 154h1v10h-1zM458 154h1v10h-1zM480 154h2v10h-2zM486 154h1v10h-1zM494 154h1v10h-1zM536 154h2v10h-2zM559 154h2v10h-2zM564 154h1v10h-1zM586 154h1v10h-1zM588 154h1v10h-1zM112 164h1v13h-1zM120 164h1v13h-1zM128 164h2v13h-2zM158 164h1v13h-1zM176 164h1v13h-1zM196 164h1v13h-1zM256 164h1v13h-1zM279 164h1v13h-1zM281 164h1v13h-1zM293 164h1v13h-1zM337 164h3v13h-3zM348 164h1v13h-1zM354 164h2v13h-2zM363 164h1v13h-1zM371 164h3v13h-3zM434 164h1v13h-1zM456 164h1v13h-1zM473 164h1v13h-1zM500 164h1v13h-1zM503 164h1v13h-1zM506 164h1v13h-1zM513 164h1v13h-1zM525 164h1v13h-1zM532 164h1v13h-1zM538 164h1v13h-1zM541 164h1v13h-1zM552 164h1v13h-1zM565 164h2v13h-2zM582 164h1v13h-1zM118 177h2v14h-2zM136 177h1v14h-1zM158 177h1v14h-1zM167 177h1v14h-1zM174 177h2v14h-2zM187 177h1v14h-1zM189 177h1v14h-1zM191 177h2v14h-2zM215 177h1v14h-1zM270 177h1v14h-1zM280 177h1v14h-1zM285 177h2v14h-2zM288 177h2v14h-2zM292 177h1v14h-1zM315 177h2v14h-2zM322 177h1v14h-1zM326 177h1v14h-1zM334 177h2v14h-2zM382 177h1v14h-1zM388 177h3v14h-3zM435 177h1v14h-1zM452 177h2v14h-2zM474 177h1v14h-1zM483 177h1v14h-1zM516 177h2v14h-2zM538 177h1v14h-1zM545 177h1v14h-1zM548 177h1v14h-1zM577 177h1v14h-1zM587 177h1v14h-1zM112 191h1v13h-1zM121 191h1v13h-1zM143 191h1v13h-1zM166 191h1v13h-1zM168 191h1v13h-1zM173 191h1v13h-1zM186 191h2v13h-2zM223 191h2v13h-2zM258 191h1v13h-1zM277 191h1v13h-1zM287 191h1v13h-1zM290 191h1v13h-1zM297 191h1v13h-1zM321 191h1v13h-1zM331 191h1v13h-1zM336 191h1v13h-1zM357 191h1v13h-1zM369 191h1v13h-1zM373 191h2v13h-2zM378 191h1v13h-1zM396 191h1v13h-1zM493 191h1v13h-1zM499 191h1v13h-1zM503 191h1v13h-1zM507 191h2v13h-2zM512 191h1v13h-1zM516 191h1v13h-1zM523 191h1v13h-1zM529 191h1v13h-1zM546 191h1v13h-1zM554 191h1v13h-1zM577 191h1v13h-1zM113 204h2v13h-2zM119 204h1v13h-1zM137 204h1v13h-1zM139 204h1v13h-1zM144 204h1v13h-1zM152 204h2v13h-2zM158 204h2v13h-2zM171 204h2v13h-2zM193 204h1v13h-1zM223 204h1v13h-1zM283 204h2v13h-2zM288 204h2v13h-2zM302 204h2v13h-2zM307 204h1v13h-1zM313 204h1v13h-1zM318 204h1v13h-1zM325 204h2v13h-2zM333 204h1v13h-1zM343 204h1v13h-1zM363 204h1v13h-1zM376 204h3v13h-3zM385 204h1v13h-1zM388 204h1v13h-1zM395 204h1v13h-1zM438 204h1v13h-1zM453 204h1v13h-1zM463 204h1v13h-1zM516 204h1v13h-1zM523 204h1v13h-1zM537 204h1v13h-1zM568 204h2v13h-2zM583 204h1v13h-1zM130 217h1v14h-1zM145 217h1v14h-1zM158 217h1v14h-1zM190 217h1v14h-1zM196 217h1v14h-1zM286 217h1v14h-1zM292 217h1v14h-1zM320 217h2v14h-2zM330 217h2v14h-2zM342 217h1v14h-1zM364 217h2v14h-2zM368 217h1v14h-1zM470 217h1v14h-1zM475 217h1v14h-1zM499 217h1v14h-1zM522 217h1v14h-1zM536 217h1v14h-1zM543 217h2v14h-2zM559 217h1v14h-1zM575 217h2v14h-2zM132 231h1v14h-1zM141 231h2v14h-2zM165 231h2v14h-2zM175 231h1v14h-1zM185 231h1v14h-1zM199 231h1v14h-1zM268 231h1v14h-1zM326 231h1v14h-1zM329 231h1v14h-1zM332 231h1v14h-1zM335 231h1v14h-1zM340 231h1v14h-1zM349 231h1v14h-1zM355 231h1v14h-1zM371 231h1v14h-1zM396 231h1v14h-1zM406 231h1v14h-1zM482 231h1v14h-1zM484 231h1v14h-1zM512 231h1v14h-1zM543 231h1v14h-1zM549 231h1v14h-1zM569 231h1v14h-1zM115 245h1v13h-1zM118 245h1v13h-1zM121 245h1v13h-1zM127 245h1v13h-1zM136 245h1v13h-1zM148 245h1v13h-1zM154 245h2v13h-2zM169 245h1v13h-1zM171 245h1v13h-1zM175 245h2v13h-2zM188 245h1v13h-1zM191 245h1v13h-1zM203 245h2v13h-2zM265 245h1v13h-1zM294 245h1v13h-1zM301 245h1v13h-1zM313 245h1v13h-1zM323 245h2v13h-2zM337 245h2v13h-2zM341 245h2v13h-2zM352 245h1v13h-1zM361 245h1v13h-1zM370 245h2v13h-2zM381 245h1v13h-1zM467 245h1v13h-1zM469 245h1v13h-1zM488 245h1v13h-1zM491 245h1v13h-1zM502 245h1v13h-1zM516 245h2v13h-2zM526 245h1v13h-1zM532 245h1v13h-1zM539 245h2v13h-2zM542 245h1v13h-1zM547 245h2v13h-2zM559 245h1v13h-1zM568 245h2v13h-2zM114 258h1v13h-1zM119 258h1v13h-1zM151 258h1v13h-1zM172 258h1v13h-1zM210 258h1v13h-1zM324 258h1v13h-1zM342 258h1v13h-1zM383 258h2v13h-2zM446 258h1v13h-1zM479 258h1v13h-1zM507 258h1v13h-1zM542 258h1v13h-1zM554 258h1v13h-1zM567 258h1v13h-1zM116 271h2v13h-2zM172 271h1v13h-1zM185 271h1v13h-1zM221 271h1v13h-1zM310 271h2v13h-2zM329 271h1v13h-1zM333 271h1v13h-1zM341 271h2v13h-2zM361 271h1v13h-1zM446 271h1v13h-1zM112 284h1v14h-1zM170 284h2v14h-2zM221 284h1v14h-1zM302 284h1v14h-1zM385 284h1v14h-1zM461 284h1v14h-1zM469 284h1v14h-1zM481 284h1v14h-1zM120 298h1v15h-1zM187 298h1v15h-1zM301 298h1v15h-1zM343 298h1v15h-1zM467 298h2v15h-2zM164 313h1v19h-1zM175 313h1v19h-1zM288 313h1v19h-1zM347 313h2v19h-2zM351 313h1v19h-1zM552 313h1v19h-1zM172 332h1v12h-1zM362 332h2v12h-2z"/><path fill="#00ffff" d="M238 67h1v17h-1zM418 67h1v17h-1zM235 84h1v23h-1zM556 84h2v23h-2zM597 84h1v23h-1zM221 107h1v12h-1zM300 107h1v12h-1zM441 107h1v12h-1zM511 107h1v12h-1zM114 119h1v13h-1zM169 119h1v13h-1zM179 119h1v13h-1zM182 119h1v13h-1zM283 119h1v13h-1zM330 119h2v13h-2zM430 119h1v13h-1zM124 132h2v11h-2zM299 132h1v11h-1zM401 132h1v11h-1zM501 132h1v11h-1zM168 143h2v11h-2zM184 143h1v11h-1zM188 143h1v11h-1zM405 143h1v11h-1zM413 143h1v11h-1zM472 143h1v11h-1zM592 143h1v11h-1zM129 154h2v10h-2zM163 154h1v10h-1zM257 154h1v10h-1zM265 154h2v10h-2zM442 154h2v10h-2zM445 154h1v10h-1zM511 154h2v10h-2zM523 154h1v10h-1zM558 154h1v10h-1zM193 164h2v13h-2zM223 164h1v13h-1zM267 164h1v13h-1zM317 164h1v13h-1zM360 164h1v13h-1zM392 164h1v13h-1zM445 164h1v13h-1zM472 164h1v13h-1zM474 164h2v13h-2zM542 164h1v13h-1zM570 164h1v13h-1zM584 164h2v13h-2zM229 177h1v14h-1zM282 177h1v14h-1zM314 177h1v14h-1zM341 177h2v14h-2zM348 177h2v14h-2zM398 177h1v14h-1zM401 177h1v14h-1zM485 177h1v14h-1zM508 177h2v14h-2zM576 177h1v14h-1zM135 191h3v13h-3zM165 191h1v13h-1zM178 191h1v13h-1zM202 191h1v13h-1zM218 191h1v13h-1zM279 191h1v13h-1zM285 191h1v13h-1zM288 191h2v13h-2zM292 191h1v13h-1zM295 191h1v13h-1zM300 191h3v13h-3zM309 191h1v13h-1zM324 191h1v13h-1zM364 191h1v13h-1zM459 191h2v13h-2zM549 191h2v13h-2zM587 191h1v13h-1zM124 204h3v13h-3zM150 204h1v13h-1zM184 204h1v13h-1zM207 204h1v13h-1zM220 204h1v13h-1zM276 204h2v13h-2zM322 204h3v13h-3zM331 204h1v13h-1zM347 204h1v13h-1zM355 204h1v13h-1zM370 204h1v13h-1zM401 204h1v13h-1zM468 204h1v13h-1zM503 204h2v13h-2zM507 204h1v13h-1zM509 204h1v13h-1zM513 204h3v13h-3zM517 204h2v13h-2zM520 204h2v13h-2zM528 204h1v13h-1zM530 204h2v13h-2zM545 204h1v13h-1zM556 204h2v13h-2zM574 204h1v13h-1zM149 217h1v14h-1zM161 217h1v14h-1zM165 217h2v14h-2zM178 217h1v14h-1zM194 217h1v14h-1zM212 217h1v14h-1zM260 217h2v14h-2zM278 217h1v14h-1zM291 217h1v14h-1zM326 217h1v14h-1zM345 217h2v14h-2zM361 217h1v14h-1zM363 217h1v14h-1zM386 217h3v14h-3zM391 217h1v14h-1zM404 217h2v14h-2zM451 217h1v14h-1zM461 217h2v14h-2zM464 217h2v14h-2zM469 217h1v14h-1zM501 217h1v14h-1zM504 217h1v14h-1zM506 217h1v14h-1zM540 217h1v14h-1zM546 217h2v14h-2zM563 217h1v14h-1zM115 231h1v14h-1zM140 231h1v14h-1zM153 231h1v14h-1zM169 231h2v14h-2zM184 231h1v14h-1zM188 231h1v14h-1zM212 231h2v14h-2zM273 231h1v14h-1zM283 231h1v14h-1zM291 231h1v14h-1zM334 231h1v14h-1zM341 231h1v14h-1zM347 231h1v14h-1zM369 231h1v14h-1zM373 231h2v14h-2zM394 231h1v14h-1zM537 231h1v14h-1zM539 231h2v14h-2zM551 231h1v14h-1zM557 231h1v14h-1zM580 231h2v14h-2zM112 245h1v13h-1zM134 245h1v13h-1zM152 245h1v13h-1zM162 245h2v13h-2zM218 245h1v13h-1zM221 245h1v13h-1zM292 245h1v13h-1zM330 245h1v13h-1zM348 245h1v13h-1zM462 245h2v13h-2zM465 245h1v13h-1zM582 245h1v13h-1zM112 258h1v13h-1zM116 258h1v13h-1zM122 258h2v13h-2zM125 258h1v13h-1zM140 258h1v13h-1zM160 258h1v13h-1zM175 258h2v13h-2zM184 258h2v13h-2zM215 258h1v13h-1zM287 258h2v13h-2zM292 258h2v13h-2zM295 258h1v13h-1zM309 258h1v13h-1zM501 258h1v13h-1zM503 258h1v13h-1zM536 258h1v13h-1zM546 258h1v13h-1zM557 258h1v13h-1zM565 258h1v13h-1zM140 271h1v13h-1zM148 271h2v13h-2zM169 271h1v13h-1zM174 271h1v13h-1zM211 271h1v13h-1zM272 271h1v13h-1zM283 271h1v13h-1zM286 271h2v13h-2zM295 271h2v13h-2zM350 271h1v13h-1zM370 271h2v13h-2zM377 271h1v13h-1zM487 271h1v13h-1zM494 271h2v13h-2zM499 271h1v13h-1zM538 271h1v13h-1zM542 271h2v13h-2zM547 271h1v13h-1zM550 271h1v13h-1zM180 284h1v14h-1zM188 284h1v14h-1zM192 284h1v14h-1zM217 284h1v14h-1zM268 284h1v14h-1zM315 284h1v14h-1zM458 284h1v14h-1zM471 284h1v14h-1zM474 284h1v14h-1zM478 284h1v14h-1zM491 284h1v14h-1zM495 284h1v14h-1zM533 284h1v14h-1zM130 298h1v15h-1zM150 298h1v15h-1zM157 298h1v15h-1zM177 298h2v15h-2zM208 298h1v15h-1zM347 298h1v15h-1zM449 298h1v15h-1zM452 298h1v15h-1zM479 298h1v15h-1zM509 298h1v15h-1zM577 298h1v15h-1zM123 313h1v19h-1zM145 313h1v19h-1zM158 313h1v19h-1zM211 313h2v19h-2zM217 313h1v19h-1zM310 313h1v19h-1zM328 313h1v19h-1zM334 313h2v19h-2zM340 313h1v19h-1zM452 313h1v19h-1zM136 332h1v12h-1zM140 332h1v12h-1zM190 332h1v12h-1zM198 332h1v12h-1zM212 332h2v12h-2zM279 332h1v12h-1zM301 332h1v12h-1zM355 332h1v12h-1zM501 332h1v12h-1zM508 332h1v12h-1zM510 332h1v12h-1zM542 332h1v12h-1zM565 332h1v12h-1z"/><path fill="#00fff3" d="M239 67h1v17h-1zM245 67h1v17h-1zM426 67h1v17h-1zM343 84h1v23h-1zM234 107h1v12h-1zM365 107h2v12h-2zM396 107h1v12h-1zM415 107h1v12h-1zM120 119h1v13h-1zM386 119h2v13h-2zM314 132h1v11h-1zM331 132h1v11h-1zM178 143h2v11h-2zM198 143h1v11h-1zM382 143h1v11h-1zM464 143h1v11h-1zM555 143h2v11h-2zM219 154h1v10h-1zM267 154h1v10h-1zM342 154h1v10h-1zM591 154h1v10h-1zM139 164h1v13h-1zM186 164h1v13h-1zM230 164h1v13h-1zM255 164h1v13h-1zM333 164h2v13h-2zM393 164h1v13h-1zM403 164h1v13h-1zM536 164h1v13h-1zM200 177h1v14h-1zM284 177h1v14h-1zM295 177h1v14h-1zM317 177h1v14h-1zM331 177h2v14h-2zM353 177h2v14h-2zM361 177h2v14h-2zM451 177h1v14h-1zM520 177h2v14h-2zM539 177h1v14h-1zM125 191h1v13h-1zM257 191h1v13h-1zM332 191h2v13h-2zM436 191h1v13h-1zM472 191h1v13h-1zM532 191h1v13h-1zM112 204h1v13h-1zM169 204h1v13h-1zM182 204h2v13h-2zM204 204h1v13h-1zM409 204h1v13h-1zM491 204h2v13h-2zM502 204h1v13h-1zM586 204h1v13h-1zM112 217h1v14h-1zM134 217h1v14h-1zM147 217h1v14h-1zM163 217h1v14h-1zM197 217h1v14h-1zM199 217h1v14h-1zM204 217h2v14h-2zM208 217h1v14h-1zM293 217h1v14h-1zM299 217h1v14h-1zM305 217h1v14h-1zM311 217h2v14h-2zM315 217h1v14h-1zM337 217h1v14h-1zM340 217h1v14h-1zM350 217h1v14h-1zM358 217h1v14h-1zM408 217h1v14h-1zM445 217h2v14h-2zM483 217h2v14h-2zM510 217h1v14h-1zM515 217h1v14h-1zM550 217h1v14h-1zM557 217h1v14h-1zM143 231h2v14h-2zM160 231h1v14h-1zM171 231h1v14h-1zM173 231h2v14h-2zM226 231h1v14h-1zM275 231h1v14h-1zM297 231h2v14h-2zM301 231h1v14h-1zM308 231h1v14h-1zM311 231h1v14h-1zM350 231h1v14h-1zM357 231h1v14h-1zM361 231h1v14h-1zM365 231h1v14h-1zM377 231h1v14h-1zM381 231h1v14h-1zM407 231h1v14h-1zM480 231h1v14h-1zM493 231h1v14h-1zM538 231h1v14h-1zM546 231h2v14h-2zM563 231h1v14h-1zM583 231h1v14h-1zM166 245h2v13h-2zM173 245h1v13h-1zM197 245h1v13h-1zM262 245h1v13h-1zM316 245h2v13h-2zM326 245h1v13h-1zM328 245h1v13h-1zM344 245h1v13h-1zM346 245h1v13h-1zM367 245h1v13h-1zM379 245h1v13h-1zM396 245h1v13h-1zM406 245h1v13h-1zM441 245h2v13h-2zM447 245h1v13h-1zM457 245h1v13h-1zM459 245h2v13h-2zM472 245h2v13h-2zM475 245h1v13h-1zM522 245h2v13h-2zM545 245h1v13h-1zM550 245h2v13h-2zM556 245h2v13h-2zM561 245h1v13h-1zM563 245h1v13h-1zM574 245h1v13h-1zM128 258h1v13h-1zM137 258h2v13h-2zM158 258h1v13h-1zM169 258h1v13h-1zM179 258h2v13h-2zM264 258h1v13h-1zM298 258h1v13h-1zM306 258h1v13h-1zM330 258h1v13h-1zM332 258h1v13h-1zM334 258h1v13h-1zM349 258h1v13h-1zM367 258h1v13h-1zM371 258h1v13h-1zM376 258h1v13h-1zM393 258h1v13h-1zM405 258h1v13h-1zM443 258h1v13h-1zM450 258h1v13h-1zM452 258h2v13h-2zM463 258h1v13h-1zM509 258h2v13h-2zM513 258h1v13h-1zM515 258h1v13h-1zM538 258h1v13h-1zM549 258h1v13h-1zM552 258h1v13h-1zM563 258h1v13h-1zM581 258h1v13h-1zM180 271h1v13h-1zM224 271h1v13h-1zM265 271h1v13h-1zM281 271h1v13h-1zM337 271h2v13h-2zM380 271h1v13h-1zM404 271h1v13h-1zM444 271h1v13h-1zM465 271h1v13h-1zM468 271h2v13h-2zM478 271h1v13h-1zM492 271h1v13h-1zM497 271h1v13h-1zM508 271h2v13h-2zM123 284h1v14h-1zM135 284h1v14h-1zM163 284h1v14h-1zM166 284h1v14h-1zM196 284h1v14h-1zM200 284h1v14h-1zM210 284h2v14h-2zM266 284h1v14h-1zM335 284h2v14h-2zM356 284h2v14h-2zM368 284h1v14h-1zM378 284h2v14h-2zM403 284h1v14h-1zM446 284h1v14h-1zM487 284h1v14h-1zM512 284h1v14h-1zM564 284h1v14h-1zM567 284h1v14h-1zM573 284h1v14h-1zM162 298h1v15h-1zM170 298h1v15h-1zM198 298h1v15h-1zM291 298h1v15h-1zM308 298h1v15h-1zM326 298h2v15h-2zM329 298h1v15h-1zM338 298h1v15h-1zM345 298h1v15h-1zM351 298h1v15h-1zM376 298h2v15h-2zM399 298h2v15h-2zM402 298h1v15h-1zM447 298h1v15h-1zM475 298h1v15h-1zM481 298h1v15h-1zM496 298h1v15h-1zM533 298h1v15h-1zM536 298h1v15h-1zM540 298h2v15h-2zM568 298h1v15h-1zM167 313h1v19h-1zM198 313h2v19h-2zM269 313h1v19h-1zM325 313h1v19h-1zM337 313h2v19h-2zM361 313h1v19h-1zM374 313h1v19h-1zM376 313h1v19h-1zM401 313h1v19h-1zM477 313h1v19h-1zM529 313h1v19h-1zM576 313h1v19h-1zM119 332h1v12h-1zM166 332h1v12h-1zM221 332h1v12h-1zM357 332h1v12h-1zM373 332h1v12h-1zM375 332h1v12h-1zM399 332h1v12h-1zM450 332h1v12h-1zM536 332h1v12h-1zM575 332h1v12h-1z"/><path fill="#00e8ff" d="M246 67h1v17h-1zM427 67h1v17h-1zM163 84h1v23h-1zM186 84h1v23h-1zM299 84h2v23h-2zM455 84h1v23h-1zM471 84h1v23h-1zM473 84h1v23h-1zM561 84h1v23h-1zM164 107h1v12h-1zM220 107h1v12h-1zM270 107h1v12h-1zM273 107h1v12h-1zM278 107h1v12h-1zM320 107h2v12h-2zM450 107h1v12h-1zM567 107h2v12h-2zM160 119h1v13h-1zM195 119h1v13h-1zM210 119h1v13h-1zM289 119h1v13h-1zM438 119h1v13h-1zM560 119h1v13h-1zM147 132h1v11h-1zM324 132h1v11h-1zM534 132h2v11h-2zM540 132h2v11h-2zM120 143h1v11h-1zM139 143h2v11h-2zM172 143h1v11h-1zM201 143h1v11h-1zM220 143h2v11h-2zM290 143h2v11h-2zM322 143h1v11h-1zM327 143h1v11h-1zM331 143h2v11h-2zM389 143h1v11h-1zM438 143h1v11h-1zM522 143h2v11h-2zM528 143h1v11h-1zM542 143h1v11h-1zM126 154h1v10h-1zM161 154h2v10h-2zM172 154h1v10h-1zM175 154h1v10h-1zM183 154h1v10h-1zM190 154h1v10h-1zM201 154h1v10h-1zM209 154h1v10h-1zM261 154h1v10h-1zM290 154h1v10h-1zM303 154h1v10h-1zM353 154h1v10h-1zM386 154h2v10h-2zM446 154h1v10h-1zM448 154h1v10h-1zM460 154h1v10h-1zM471 154h1v10h-1zM490 154h1v10h-1zM540 154h1v10h-1zM549 154h1v10h-1zM127 164h1v13h-1zM137 164h2v13h-2zM144 164h1v13h-1zM159 164h1v13h-1zM173 164h1v13h-1zM224 164h1v13h-1zM322 164h1v13h-1zM324 164h2v13h-2zM344 164h1v13h-1zM356 164h2v13h-2zM369 164h1v13h-1zM378 164h1v13h-1zM468 164h1v13h-1zM470 164h2v13h-2zM480 164h1v13h-1zM507 164h3v13h-3zM546 164h3v13h-3zM550 164h1v13h-1zM571 164h2v13h-2zM135 177h1v14h-1zM151 177h1v14h-1zM154 177h2v14h-2zM164 177h2v14h-2zM188 177h1v14h-1zM197 177h1v14h-1zM225 177h1v14h-1zM278 177h1v14h-1zM290 177h1v14h-1zM319 177h1v14h-1zM338 177h1v14h-1zM352 177h1v14h-1zM381 177h1v14h-1zM387 177h1v14h-1zM391 177h2v14h-2zM468 177h1v14h-1zM476 177h1v14h-1zM490 177h1v14h-1zM527 177h1v14h-1zM537 177h1v14h-1zM550 177h1v14h-1zM552 177h2v14h-2zM560 177h2v14h-2zM569 177h1v14h-1zM131 191h2v13h-2zM144 191h1v13h-1zM153 191h2v13h-2zM183 191h1v13h-1zM199 191h1v13h-1zM284 191h1v13h-1zM296 191h1v13h-1zM342 191h1v13h-1zM356 191h1v13h-1zM370 191h1v13h-1zM387 191h2v13h-2zM483 191h1v13h-1zM501 191h1v13h-1zM562 191h1v13h-1zM567 191h1v13h-1zM147 204h1v13h-1zM166 204h1v13h-1zM211 204h2v13h-2zM259 204h1v13h-1zM270 204h1v13h-1zM273 204h1v13h-1zM291 204h2v13h-2zM294 204h2v13h-2zM316 204h2v13h-2zM327 204h1v13h-1zM342 204h1v13h-1zM360 204h1v13h-1zM371 204h1v13h-1zM394 204h1v13h-1zM402 204h1v13h-1zM454 204h2v13h-2zM469 204h1v13h-1zM479 204h1v13h-1zM501 204h1v13h-1zM511 204h1v13h-1zM519 204h1v13h-1zM529 204h1v13h-1zM541 204h2v13h-2zM570 204h1v13h-1zM577 204h2v13h-2zM119 217h1v14h-1zM135 217h1v14h-1zM143 217h1v14h-1zM146 217h1v14h-1zM164 217h1v14h-1zM170 217h1v14h-1zM192 217h1v14h-1zM215 217h1v14h-1zM270 217h3v14h-3zM276 217h1v14h-1zM280 217h5v14h-5zM294 217h1v14h-1zM307 217h1v14h-1zM333 217h3v14h-3zM352 217h1v14h-1zM359 217h1v14h-1zM375 217h1v14h-1zM385 217h1v14h-1zM389 217h1v14h-1zM441 217h2v14h-2zM449 217h2v14h-2zM454 217h1v14h-1zM456 217h2v14h-2zM467 217h2v14h-2zM472 217h1v14h-1zM477 217h1v14h-1zM481 217h1v14h-1zM541 217h2v14h-2zM551 217h2v14h-2zM566 217h1v14h-1zM578 217h1v14h-1zM112 231h2v14h-2zM116 231h2v14h-2zM133 231h2v14h-2zM145 231h1v14h-1zM147 231h1v14h-1zM156 231h1v14h-1zM194 231h1v14h-1zM210 231h2v14h-2zM217 231h1v14h-1zM271 231h1v14h-1zM285 231h3v14h-3zM300 231h1v14h-1zM310 231h1v14h-1zM352 231h1v14h-1zM359 231h2v14h-2zM372 231h1v14h-1zM390 231h1v14h-1zM392 231h1v14h-1zM460 231h2v14h-2zM500 231h2v14h-2zM526 231h2v14h-2zM535 231h1v14h-1zM544 231h1v14h-1zM552 231h3v14h-3zM561 231h1v14h-1zM123 245h1v13h-1zM130 245h1v13h-1zM138 245h1v13h-1zM159 245h1v13h-1zM180 245h1v13h-1zM183 245h2v13h-2zM193 245h1v13h-1zM195 245h1v13h-1zM201 245h1v13h-1zM211 245h1v13h-1zM213 245h1v13h-1zM304 245h2v13h-2zM321 245h1v13h-1zM399 245h1v13h-1zM477 245h2v13h-2zM483 245h2v13h-2zM494 245h1v13h-1zM498 245h1v13h-1zM500 245h1v13h-1zM528 245h1v13h-1zM535 245h1v13h-1zM537 245h1v13h-1zM566 245h1v13h-1zM135 258h1v13h-1zM145 258h1v13h-1zM182 258h1v13h-1zM187 258h2v13h-2zM191 258h1v13h-1zM193 258h1v13h-1zM217 258h2v13h-2zM224 258h1v13h-1zM266 258h1v13h-1zM302 258h1v13h-1zM322 258h1v13h-1zM338 258h1v13h-1zM363 258h1v13h-1zM492 258h1v13h-1zM578 258h1v13h-1zM194 271h2v13h-2zM218 271h1v13h-1zM274 271h2v13h-2zM290 271h1v13h-1zM298 271h1v13h-1zM385 271h1v13h-1zM397 271h1v13h-1zM456 271h1v13h-1zM463 271h1v13h-1zM506 271h1v13h-1zM518 271h1v13h-1zM202 284h1v14h-1zM292 284h1v14h-1zM330 284h2v14h-2zM340 284h1v14h-1zM362 284h1v14h-1zM381 284h1v14h-1zM116 298h1v15h-1zM138 298h1v15h-1zM165 298h1v15h-1zM217 298h2v15h-2zM484 298h2v15h-2zM525 298h2v15h-2zM131 313h2v19h-2zM151 313h1v19h-1zM209 313h1v19h-1zM301 313h1v19h-1zM332 313h1v19h-1zM388 313h2v19h-2zM467 313h1v19h-1zM174 332h1v12h-1zM179 332h1v12h-1zM296 332h1v12h-1zM352 332h1v12h-1zM486 332h2v12h-2z"/><path fill="#0000dc" d="M366 67h2v17h-2z"/><path fill="#0000c4" d="M413 67h3v17h-3z"/><path fill="#008bff" d="M156 84h1v23h-1zM172 84h1v23h-1zM196 84h2v23h-2zM210 84h3v23h-3zM297 84h1v23h-1zM317 84h1v23h-1zM325 84h1v23h-1zM342 84h1v23h-1zM373 84h1v23h-1zM378 84h1v23h-1zM389 84h2v23h-2zM397 84h1v23h-1zM412 84h1v23h-1zM429 84h1v23h-1zM453 84h1v23h-1zM462 84h1v23h-1zM475 84h1v23h-1zM478 84h2v23h-2zM511 84h1v23h-1zM513 84h2v23h-2zM535 84h1v23h-1zM587 84h1v23h-1zM142 107h1v12h-1zM150 107h1v12h-1zM174 107h1v12h-1zM183 107h1v12h-1zM190 107h1v12h-1zM197 107h1v12h-1zM213 107h1v12h-1zM218 107h2v12h-2zM303 107h1v12h-1zM334 107h2v12h-2zM364 107h1v12h-1zM378 107h1v12h-1zM389 107h2v12h-2zM392 107h1v12h-1zM397 107h1v12h-1zM409 107h1v12h-1zM447 107h1v12h-1zM480 107h1v12h-1zM488 107h1v12h-1zM522 107h1v12h-1zM528 107h1v12h-1zM542 107h1v12h-1zM551 107h2v12h-2zM556 107h1v12h-1zM562 107h1v12h-1zM570 107h1v12h-1zM117 119h1v13h-1zM119 119h1v13h-1zM132 119h1v13h-1zM135 119h1v13h-1zM144 119h1v13h-1zM156 119h1v13h-1zM174 119h1v13h-1zM216 119h1v13h-1zM258 119h2v13h-2zM273 119h1v13h-1zM296 119h1v13h-1zM319 119h2v13h-2zM357 119h1v13h-1zM360 119h1v13h-1zM363 119h1v13h-1zM388 119h1v13h-1zM395 119h5v13h-5zM448 119h1v13h-1zM454 119h1v13h-1zM466 119h2v13h-2zM503 119h1v13h-1zM509 119h2v13h-2zM525 119h2v13h-2zM533 119h1v13h-1zM563 119h2v13h-2zM580 119h1v13h-1zM163 132h1v11h-1zM179 132h1v11h-1zM189 132h1v11h-1zM259 132h1v11h-1zM303 132h1v11h-1zM368 132h2v11h-2zM383 132h2v11h-2zM393 132h3v11h-3zM443 132h2v11h-2zM453 132h2v11h-2zM484 132h1v11h-1zM508 132h1v11h-1zM547 132h1v11h-1zM115 143h1v11h-1zM123 143h1v11h-1zM152 143h1v11h-1zM164 143h1v11h-1zM174 143h1v11h-1zM181 143h1v11h-1zM192 143h1v11h-1zM196 143h1v11h-1zM224 143h1v11h-1zM292 143h1v11h-1zM297 143h1v11h-1zM324 143h1v11h-1zM335 143h1v11h-1zM349 143h1v11h-1zM364 143h1v11h-1zM372 143h1v11h-1zM374 143h2v11h-2zM379 143h2v11h-2zM383 143h1v11h-1zM387 143h1v11h-1zM397 143h1v11h-1zM400 143h1v11h-1zM403 143h1v11h-1zM446 143h1v11h-1zM451 143h2v11h-2zM460 143h1v11h-1zM485 143h1v11h-1zM495 143h2v11h-2zM501 143h1v11h-1zM517 143h2v11h-2zM524 143h2v11h-2zM530 143h1v11h-1zM540 143h1v11h-1zM544 143h1v11h-1zM552 143h1v11h-1zM563 143h4v11h-4zM112 154h1v10h-1zM114 154h1v10h-1zM123 154h1v10h-1zM136 154h2v10h-2zM143 154h3v10h-3zM157 154h1v10h-1zM178 154h2v10h-2zM187 154h1v10h-1zM198 154h2v10h-2zM227 154h2v10h-2zM260 154h1v10h-1zM287 154h1v10h-1zM307 154h1v10h-1zM345 154h1v10h-1zM352 154h1v10h-1zM354 154h1v10h-1zM374 154h2v10h-2zM383 154h1v10h-1zM390 154h1v10h-1zM403 154h1v10h-1zM440 154h2v10h-2zM444 154h1v10h-1zM449 154h1v10h-1zM456 154h1v10h-1zM463 154h1v10h-1zM475 154h1v10h-1zM499 154h1v10h-1zM509 154h1v10h-1zM552 154h1v10h-1zM572 154h2v10h-2zM576 154h3v10h-3zM113 164h1v13h-1zM140 164h1v13h-1zM145 164h1v13h-1zM149 164h2v13h-2zM181 164h1v13h-1zM189 164h2v13h-2zM198 164h1v13h-1zM214 164h2v13h-2zM228 164h1v13h-1zM277 164h1v13h-1zM287 164h1v13h-1zM290 164h2v13h-2zM300 164h1v13h-1zM347 164h1v13h-1zM352 164h2v13h-2zM379 164h1v13h-1zM394 164h1v13h-1zM440 164h1v13h-1zM462 164h1v13h-1zM481 164h1v13h-1zM485 164h1v13h-1zM496 164h1v13h-1zM499 164h1v13h-1zM517 164h1v13h-1zM559 164h2v13h-2zM568 164h1v13h-1zM576 164h2v13h-2zM579 164h2v13h-2zM123 177h2v14h-2zM132 177h1v14h-1zM143 177h2v14h-2zM157 177h1v14h-1zM162 177h2v14h-2zM166 177h1v14h-1zM224 177h1v14h-1zM263 177h1v14h-1zM273 177h2v14h-2zM300 177h1v14h-1zM313 177h1v14h-1zM320 177h1v14h-1zM363 177h1v14h-1zM369 177h1v14h-1zM379 177h2v14h-2zM383 177h1v14h-1zM448 177h1v14h-1zM464 177h1v14h-1zM467 177h1v14h-1zM478 177h1v14h-1zM495 177h3v14h-3zM500 177h1v14h-1zM506 177h1v14h-1zM518 177h1v14h-1zM528 177h1v14h-1zM564 177h2v14h-2zM573 177h1v14h-1zM149 191h2v13h-2zM163 191h2v13h-2zM201 191h1v13h-1zM203 191h1v13h-1zM219 191h3v13h-3zM317 191h2v13h-2zM325 191h1v13h-1zM327 191h2v13h-2zM345 191h2v13h-2zM393 191h2v13h-2zM452 191h1v13h-1zM455 191h1v13h-1zM476 191h1v13h-1zM491 191h1v13h-1zM495 191h1v13h-1zM547 191h2v13h-2zM558 191h2v13h-2zM570 191h1v13h-1zM142 204h1v13h-1zM175 204h1v13h-1zM179 204h1v13h-1zM190 204h1v13h-1zM195 204h2v13h-2zM293 204h1v13h-1zM299 204h2v13h-2zM305 204h2v13h-2zM328 204h2v13h-2zM357 204h2v13h-2zM373 204h2v13h-2zM393 204h1v13h-1zM456 204h1v13h-1zM474 204h1v13h-1zM498 204h2v13h-2zM527 204h1v13h-1zM534 204h1v13h-1zM538 204h1v13h-1zM543 204h1v13h-1zM550 204h2v13h-2zM184 217h1v14h-1zM220 217h1v14h-1zM290 217h1v14h-1zM513 217h2v14h-2zM530 217h1v14h-1zM161 231h1v14h-1zM201 231h1v14h-1zM220 231h2v14h-2zM265 231h1v14h-1zM342 231h1v14h-1zM346 231h1v14h-1zM351 231h1v14h-1zM362 231h1v14h-1zM560 231h1v14h-1z"/><path fill="#00ffe7" d="M223 84h2v23h-2zM429 107h1v12h-1zM596 107h1v12h-1zM250 119h1v13h-1zM228 132h1v11h-1zM251 132h1v11h-1zM414 132h1v11h-1zM252 143h1v11h-1zM365 143h1v11h-1zM231 154h1v10h-1zM253 154h1v10h-1zM438 164h1v13h-1zM590 164h1v13h-1zM172 177h1v14h-1zM184 177h1v14h-1zM201 177h1v14h-1zM336 177h2v14h-2zM384 177h1v14h-1zM491 177h1v14h-1zM522 177h1v14h-1zM184 191h1v13h-1zM343 191h1v13h-1zM367 191h2v13h-2zM410 191h1v13h-1zM456 191h1v13h-1zM116 204h1v13h-1zM138 204h1v13h-1zM156 204h1v13h-1zM213 204h1v13h-1zM228 204h1v13h-1zM258 204h1v13h-1zM352 204h1v13h-1zM366 204h2v13h-2zM381 204h2v13h-2zM437 204h1v13h-1zM540 204h1v13h-1zM123 217h2v14h-2zM227 217h1v14h-1zM259 217h1v14h-1zM348 217h1v14h-1zM397 217h1v14h-1zM500 217h1v14h-1zM507 217h2v14h-2zM553 217h2v14h-2zM585 217h1v14h-1zM124 231h2v14h-2zM149 231h1v14h-1zM151 231h1v14h-1zM162 231h1v14h-1zM225 231h1v14h-1zM279 231h2v14h-2zM289 231h2v14h-2zM304 231h1v14h-1zM489 231h1v14h-1zM503 231h1v14h-1zM508 231h1v14h-1zM534 231h1v14h-1zM542 231h1v14h-1zM548 231h1v14h-1zM584 231h1v14h-1zM132 245h1v13h-1zM146 245h1v13h-1zM186 245h1v13h-1zM296 245h1v13h-1zM308 245h1v13h-1zM333 245h1v13h-1zM508 245h1v13h-1zM513 245h1v13h-1zM572 245h1v13h-1zM205 258h1v13h-1zM207 258h2v13h-2zM212 258h1v13h-1zM225 258h1v13h-1zM263 258h1v13h-1zM365 258h1v13h-1zM388 258h1v13h-1zM403 258h1v13h-1zM448 258h1v13h-1zM472 258h1v13h-1zM484 258h2v13h-2zM559 258h1v13h-1zM112 271h1v13h-1zM119 271h1v13h-1zM122 271h1v13h-1zM178 271h1v13h-1zM269 271h1v13h-1zM279 271h1v13h-1zM292 271h1v13h-1zM304 271h1v13h-1zM320 271h1v13h-1zM325 271h1v13h-1zM327 271h1v13h-1zM356 271h1v13h-1zM359 271h1v13h-1zM387 271h1v13h-1zM458 271h1v13h-1zM524 271h1v13h-1zM560 271h2v13h-2zM565 271h1v13h-1zM580 271h1v13h-1zM143 284h1v14h-1zM150 284h1v14h-1zM155 284h1v14h-1zM194 284h1v14h-1zM214 284h2v14h-2zM297 284h2v14h-2zM347 284h1v14h-1zM373 284h1v14h-1zM375 284h1v14h-1zM445 284h1v14h-1zM451 284h1v14h-1zM465 284h1v14h-1zM484 284h1v14h-1zM509 284h1v14h-1zM560 284h1v14h-1zM579 284h1v14h-1zM112 298h1v15h-1zM135 298h1v15h-1zM267 298h1v15h-1zM271 298h1v15h-1zM313 298h1v15h-1zM364 298h1v15h-1zM382 298h1v15h-1zM392 298h1v15h-1zM458 298h1v15h-1zM460 298h1v15h-1zM503 298h1v15h-1zM517 298h1v15h-1zM531 298h1v15h-1zM546 298h1v15h-1zM119 313h1v19h-1zM143 313h1v19h-1zM182 313h1v19h-1zM192 313h1v19h-1zM222 313h1v19h-1zM273 313h1v19h-1zM344 313h2v19h-2zM448 313h1v19h-1zM510 313h1v19h-1zM538 313h1v19h-1zM131 332h1v12h-1zM155 332h1v12h-1zM207 332h2v12h-2zM270 332h1v12h-1zM288 332h1v12h-1zM293 332h2v12h-2zM314 332h2v12h-2zM325 332h1v12h-1zM333 332h1v12h-1zM400 332h1v12h-1zM483 332h1v12h-1zM506 332h1v12h-1zM516 332h1v12h-1zM554 332h1v12h-1z"/><path fill="#00ffce" d="M236 84h1v23h-1zM428 84h1v23h-1zM598 84h1v23h-1zM234 119h1v13h-1zM415 119h1v13h-1zM233 132h1v11h-1zM594 132h1v11h-1zM431 143h1v11h-1zM593 143h1v11h-1zM385 154h1v10h-1zM432 154h1v10h-1zM412 164h1v13h-1zM433 164h1v13h-1zM230 177h1v14h-1zM434 177h1v14h-1zM256 191h1v13h-1zM257 204h1v13h-1zM280 204h1v13h-1zM559 204h1v13h-1zM587 204h1v13h-1zM132 217h2v14h-2zM332 217h1v14h-1zM227 231h1v14h-1zM492 231h1v14h-1zM261 245h1v13h-1zM299 245h1v13h-1zM440 245h1v13h-1zM201 258h2v13h-2zM262 258h1v13h-1zM316 258h1v13h-1zM344 258h2v13h-2zM400 258h1v13h-1zM406 258h1v13h-1zM482 258h1v13h-1zM498 258h1v13h-1zM575 258h2v13h-2zM582 258h1v13h-1zM176 271h1v13h-1zM187 271h1v13h-1zM405 271h1v13h-1zM443 271h1v13h-1zM481 271h2v13h-2zM520 271h1v13h-1zM569 271h1v13h-1zM581 271h1v13h-1zM118 284h1v14h-1zM129 284h1v14h-1zM178 284h1v14h-1zM204 284h1v14h-1zM224 284h1v14h-1zM265 284h1v14h-1zM343 284h1v14h-1zM404 284h1v14h-1zM580 284h1v14h-1zM152 298h1v15h-1zM266 298h1v15h-1zM284 298h1v15h-1zM319 298h1v15h-1zM357 298h1v15h-1zM403 298h1v15h-1zM471 298h1v15h-1zM505 298h2v15h-2zM552 298h1v15h-1zM112 313h2v19h-2zM128 313h1v19h-1zM149 313h1v19h-1zM184 313h1v19h-1zM320 313h1v19h-1zM370 313h1v19h-1zM384 313h1v19h-1zM402 313h1v19h-1zM447 313h1v19h-1zM507 313h1v19h-1zM561 313h1v19h-1zM127 332h1v12h-1zM129 332h1v12h-1zM222 332h1v12h-1zM269 332h1v12h-1zM290 332h1v12h-1zM378 332h1v12h-1zM401 332h1v12h-1zM503 332h2v12h-2zM514 332h1v12h-1zM521 332h1v12h-1zM528 332h2v12h-2zM547 332h1v12h-1zM576 332h1v12h-1z"/><path fill="#00ffaa" d="M237 84h1v23h-1zM417 84h1v23h-1zM248 107h1v12h-1zM596 119h1v13h-1zM595 132h1v11h-1zM233 143h1v11h-1zM412 177h1v14h-1zM230 191h1v13h-1zM255 191h1v13h-1zM256 204h1v13h-1zM588 204h1v13h-1zM587 217h1v14h-1zM228 231h1v14h-1zM227 245h1v13h-1zM439 245h1v13h-1zM261 258h1v13h-1zM262 271h1v13h-1zM225 284h1v14h-1zM405 284h1v14h-1zM443 284h1v14h-1zM581 284h1v14h-1zM404 298h1v15h-1zM580 298h1v15h-1zM266 313h1v19h-1zM403 313h1v19h-1zM446 313h1v19h-1zM579 313h1v19h-1zM223 332h1v12h-1zM402 332h1v12h-1z"/><path fill="#00ff86" d="M238 84h1v23h-1zM248 119h1v13h-1zM416 119h1v13h-1zM249 132h1v11h-1zM429 132h1v11h-1zM250 143h1v11h-1zM233 154h1v10h-1zM414 154h1v10h-1zM253 177h1v14h-1zM231 191h1v13h-1zM254 191h1v13h-1zM255 204h1v13h-1zM411 204h1v13h-1zM256 217h1v14h-1zM588 217h1v14h-1zM587 231h1v14h-1zM228 245h1v13h-1zM438 245h1v13h-1zM586 245h1v13h-1zM439 258h1v13h-1zM585 258h1v13h-1zM226 284h1v14h-1zM262 284h1v14h-1zM406 284h1v14h-1zM263 298h1v15h-1zM405 298h1v15h-1zM443 298h1v15h-1zM404 313h1v19h-1zM224 332h1v12h-1zM266 332h1v12h-1zM403 332h1v12h-1zM446 332h1v12h-1zM579 332h1v12h-1z"/><path fill="#00ff61" d="M239 84h1v23h-1zM427 107h1v12h-1zM416 132h1v11h-1zM249 143h1v11h-1zM234 154h1v10h-1zM250 154h1v10h-1zM430 154h1v10h-1zM251 164h1v13h-1zM414 164h1v13h-1zM252 177h1v14h-1zM253 191h1v13h-1zM231 204h1v13h-1zM254 204h1v13h-1zM255 217h1v14h-1zM411 217h1v14h-1zM256 231h1v14h-1zM229 245h1v13h-1zM257 245h1v13h-1zM437 245h1v13h-1zM587 245h1v13h-1zM258 258h1v13h-1zM438 258h1v13h-1zM586 258h1v13h-1zM439 271h1v13h-1zM585 271h1v13h-1zM227 284h1v14h-1zM407 284h1v14h-1zM584 284h1v14h-1zM406 298h1v15h-1zM583 298h1v15h-1zM263 313h1v19h-1zM405 313h1v19h-1zM443 313h1v19h-1zM582 313h1v19h-1zM225 332h1v12h-1zM264 332h1v12h-1zM404 332h1v12h-1zM581 332h1v12h-1z"/><path fill="#00ff6d" d="M245 84h1v23h-1zM426 84h1v23h-1zM237 107h1v12h-1zM417 107h1v12h-1zM236 119h1v13h-1zM428 119h1v13h-1zM594 154h1v10h-1zM233 164h1v13h-1zM431 164h1v13h-1zM593 164h1v13h-1zM413 177h1v14h-1zM432 177h1v14h-1zM592 177h1v14h-1zM433 191h1v13h-1zM591 191h1v13h-1zM434 204h1v13h-1zM590 204h1v13h-1zM230 217h1v14h-1zM435 217h1v14h-1zM589 217h1v14h-1zM410 231h1v14h-1zM436 231h1v14h-1zM588 231h1v14h-1zM409 245h1v13h-1zM228 258h1v13h-1zM260 271h1v13h-1zM261 284h1v14h-1zM441 284h1v14h-1zM226 298h1v15h-1zM262 298h1v15h-1zM442 298h1v15h-1zM445 332h1v12h-1zM580 332h1v12h-1z"/><path fill="#00ff92" d="M246 84h1v23h-1zM236 107h1v12h-1zM430 143h1v11h-1zM251 154h1v10h-1zM431 154h1v10h-1zM232 164h1v13h-1zM252 164h1v13h-1zM592 164h1v13h-1zM591 177h1v14h-1zM590 191h1v13h-1zM230 204h1v13h-1zM435 204h1v13h-1zM589 204h1v13h-1zM410 217h1v14h-1zM436 217h1v14h-1zM409 231h1v14h-1zM437 231h1v14h-1zM259 245h1v13h-1zM227 258h1v13h-1zM260 258h1v13h-1zM261 271h1v13h-1zM441 271h1v13h-1zM442 284h1v14h-1zM582 284h1v14h-1zM225 298h1v15h-1zM581 298h1v15h-1zM265 313h1v19h-1zM445 313h1v19h-1zM580 313h1v19h-1z"/><path fill="#00ffb6" d="M247 84h1v23h-1zM416 107h1v12h-1zM597 107h1v12h-1zM249 119h1v13h-1zM429 119h1v13h-1zM250 132h1v11h-1zM251 143h1v11h-1zM414 143h1v11h-1zM232 154h1v10h-1zM252 154h1v10h-1zM253 164h1v13h-1zM254 177h1v14h-1zM590 177h1v14h-1zM411 191h1v13h-1zM589 191h1v13h-1zM229 204h1v13h-1zM410 204h1v13h-1zM437 217h1v14h-1zM259 231h1v14h-1zM438 231h1v14h-1zM260 245h1v13h-1zM505 245h1v13h-1zM199 258h1v13h-1zM226 258h1v13h-1zM351 258h2v13h-2zM354 258h1v13h-1zM458 258h1v13h-1zM583 258h1v13h-1zM132 271h1v13h-1zM138 271h1v13h-1zM302 271h1v13h-1zM366 271h2v13h-2zM442 271h1v13h-1zM582 271h1v13h-1zM186 284h1v14h-1zM264 284h1v14h-1zM284 284h2v14h-2zM321 284h1v14h-1zM467 284h1v14h-1zM522 284h2v14h-2zM184 298h1v15h-1zM224 298h1v15h-1zM265 298h1v15h-1zM335 298h1v15h-1zM445 298h1v15h-1zM153 313h2v19h-2zM201 313h1v19h-1zM281 313h1v19h-1zM330 313h1v19h-1zM372 313h1v19h-1zM396 313h1v19h-1zM457 313h1v19h-1zM473 313h1v19h-1zM495 313h2v19h-2zM498 313h2v19h-2zM543 313h1v19h-1zM559 313h1v19h-1zM564 313h1v19h-1zM123 332h1v12h-1zM138 332h1v12h-1zM268 332h1v12h-1zM273 332h1v12h-1zM286 332h1v12h-1zM336 332h1v12h-1zM340 332h2v12h-2zM397 332h1v12h-1zM448 332h1v12h-1zM451 332h1v12h-1zM489 332h1v12h-1zM524 332h1v12h-1zM533 332h1v12h-1zM538 332h1v12h-1zM577 332h1v12h-1z"/><path fill="#00ffdb" d="M248 84h1v23h-1zM416 84h1v23h-1zM249 107h1v12h-1zM595 119h1v13h-1zM232 143h1v11h-1zM254 164h1v13h-1zM255 177h1v14h-1zM411 177h1v14h-1zM589 177h1v14h-1zM229 191h1v13h-1zM473 191h1v13h-1zM588 191h1v13h-1zM286 204h2v13h-2zM539 204h1v13h-1zM159 217h1v14h-1zM171 217h1v14h-1zM438 217h1v14h-1zM520 217h1v14h-1zM178 231h1v14h-1zM260 231h1v14h-1zM309 231h1v14h-1zM366 231h1v14h-1zM439 231h1v14h-1zM441 231h2v14h-2zM566 231h1v14h-1zM125 245h1v13h-1zM226 245h1v13h-1zM350 245h1v13h-1zM356 245h1v13h-1zM358 245h1v13h-1zM365 245h1v13h-1zM383 245h2v13h-2zM386 245h1v13h-1zM455 245h1v13h-1zM530 245h1v13h-1zM583 245h1v13h-1zM131 258h1v13h-1zM153 258h1v13h-1zM197 258h1v13h-1zM280 258h1v13h-1zM284 258h2v13h-2zM311 258h2v13h-2zM326 258h1v13h-1zM358 258h1v13h-1zM369 258h1v13h-1zM373 258h1v13h-1zM391 258h1v13h-1zM442 258h1v13h-1zM467 258h1v13h-1zM470 258h1v13h-1zM474 258h2v13h-2zM505 258h1v13h-1zM519 258h2v13h-2zM525 258h2v13h-2zM571 258h1v13h-1zM124 271h1v13h-1zM128 271h1v13h-1zM160 271h2v13h-2zM198 271h2v13h-2zM214 271h2v13h-2zM223 271h1v13h-1zM264 271h1v13h-1zM314 271h1v13h-1zM316 271h1v13h-1zM323 271h1v13h-1zM331 271h1v13h-1zM373 271h1v13h-1zM389 271h2v13h-2zM474 271h1v13h-1zM527 271h2v13h-2zM578 271h1v13h-1zM132 284h1v14h-1zM147 284h2v14h-2zM152 284h2v14h-2zM279 284h1v14h-1zM287 284h1v14h-1zM294 284h2v14h-2zM345 284h1v14h-1zM350 284h1v14h-1zM353 284h2v14h-2zM389 284h2v14h-2zM497 284h2v14h-2zM505 284h1v14h-1zM520 284h1v14h-1zM530 284h1v14h-1zM554 284h2v14h-2zM562 284h1v14h-1zM123 298h1v15h-1zM145 298h2v15h-2zM148 298h1v15h-1zM159 298h1v15h-1zM189 298h1v15h-1zM223 298h1v15h-1zM281 298h1v15h-1zM311 298h1v15h-1zM446 298h1v15h-1zM491 298h1v15h-1zM515 298h1v15h-1zM528 298h1v15h-1zM578 298h1v15h-1zM134 313h2v19h-2zM137 313h2v19h-2zM140 313h2v19h-2zM187 313h2v19h-2zM268 313h1v19h-1zM298 313h1v19h-1zM308 313h1v19h-1zM316 313h1v19h-1zM353 313h2v19h-2zM357 313h2v19h-2zM367 313h1v19h-1zM470 313h1v19h-1zM483 313h1v19h-1zM503 313h1v19h-1zM536 313h1v19h-1zM546 313h1v19h-1zM572 313h2v19h-2zM577 313h1v19h-1zM112 332h1v12h-1zM115 332h1v12h-1zM164 332h1v12h-1zM181 332h2v12h-2zM185 332h1v12h-1zM215 332h1v12h-1zM283 332h1v12h-1zM306 332h2v12h-2zM317 332h1v12h-1zM328 332h2v12h-2zM359 332h2v12h-2zM366 332h1v12h-1zM369 332h1v12h-1zM387 332h1v12h-1zM389 332h2v12h-2zM449 332h1v12h-1zM544 332h1v12h-1zM556 332h1v12h-1zM561 332h2v12h-2z"/><path fill="#00ff79" d="M418 84h1v23h-1zM247 107h1v12h-1zM598 107h1v12h-1zM597 119h1v13h-1zM235 132h1v11h-1zM596 132h1v11h-1zM234 143h1v11h-1zM415 143h1v11h-1zM595 143h1v11h-1zM232 177h1v14h-1zM412 191h1v13h-1zM229 231h1v14h-1zM257 231h1v14h-1zM258 245h1v13h-1zM259 258h1v13h-1zM408 258h1v13h-1zM227 271h1v13h-1zM407 271h1v13h-1zM440 271h1v13h-1zM584 271h1v13h-1zM583 284h1v14h-1zM582 298h1v15h-1zM225 313h1v19h-1zM264 313h1v19h-1zM444 313h1v19h-1zM581 313h1v19h-1zM265 332h1v12h-1z"/><path fill="#00ff9e" d="M427 84h1v23h-1zM428 107h1v12h-1zM235 119h1v13h-1zM234 132h1v11h-1zM415 132h1v11h-1zM594 143h1v11h-1zM593 154h1v10h-1zM413 164h1v13h-1zM432 164h1v13h-1zM231 177h1v14h-1zM433 177h1v14h-1zM434 191h1v13h-1zM229 217h1v14h-1zM257 217h1v14h-1zM258 231h1v14h-1zM586 231h1v14h-1zM408 245h1v13h-1zM585 245h1v13h-1zM407 258h1v13h-1zM440 258h1v13h-1zM584 258h1v13h-1zM226 271h1v13h-1zM406 271h1v13h-1zM583 271h1v13h-1zM263 284h1v14h-1zM264 298h1v15h-1zM444 298h1v15h-1zM224 313h1v19h-1zM267 332h1v12h-1zM447 332h1v12h-1zM578 332h1v12h-1z"/><path fill="#00ffc2" d="M235 107h1v12h-1zM430 132h1v11h-1zM413 154h1v10h-1zM592 154h1v10h-1zM231 164h1v13h-1zM591 164h1v13h-1zM435 191h1v13h-1zM436 204h1v13h-1zM228 217h1v14h-1zM258 217h1v14h-1zM341 217h1v14h-1zM409 217h1v14h-1zM586 217h1v14h-1zM408 231h1v14h-1zM585 231h1v14h-1zM143 245h1v13h-1zM157 245h1v13h-1zM310 245h1v13h-1zM376 245h1v13h-1zM407 245h1v13h-1zM553 245h2v13h-2zM584 245h1v13h-1zM441 258h1v13h-1zM144 271h1v13h-1zM158 271h1v13h-1zM191 271h1v13h-1zM225 271h1v13h-1zM263 271h1v13h-1zM277 271h1v13h-1zM300 271h1v13h-1zM461 271h1v13h-1zM115 284h2v14h-2zM127 284h1v14h-1zM140 284h2v14h-2zM176 284h1v14h-1zM271 284h1v14h-1zM305 284h2v14h-2zM444 284h1v14h-1zM543 284h1v14h-1zM127 298h1v15h-1zM204 298h1v15h-1zM222 298h1v15h-1zM305 298h2v15h-2zM361 298h1v15h-1zM566 298h1v15h-1zM579 298h1v15h-1zM160 313h1v19h-1zM180 313h1v19h-1zM190 313h1v19h-1zM223 313h1v19h-1zM267 313h1v19h-1zM364 313h1v19h-1zM461 313h1v19h-1zM523 313h1v19h-1zM541 313h1v19h-1zM578 313h1v19h-1zM117 332h1v12h-1zM176 332h1v12h-1zM204 332h1v12h-1zM319 332h1v12h-1zM349 332h1v12h-1zM558 332h1v12h-1z"/><path fill="#00ff3d" d="M238 107h1v12h-1zM237 119h1v13h-1zM416 143h1v11h-1zM249 154h1v10h-1zM234 164h1v13h-1zM250 164h1v13h-1zM430 164h1v13h-1zM251 177h1v14h-1zM414 177h1v14h-1zM431 177h1v14h-1zM232 204h1v13h-1zM411 231h1v14h-1zM230 245h1v13h-1zM257 258h1v13h-1zM437 258h1v13h-1zM258 271h1v13h-1zM438 271h1v13h-1zM228 284h1v14h-1zM259 284h1v14h-1zM408 284h1v14h-1zM439 284h1v14h-1zM260 298h1v15h-1zM407 298h1v15h-1zM406 313h1v19h-1zM226 332h1v12h-1z"/><path fill="#00ff0c" d="M239 107h1v12h-1zM238 119h1v13h-1zM427 132h1v11h-1zM247 143h1v11h-1zM248 154h1v10h-1zM429 164h1v13h-1zM415 177h1v14h-1zM430 177h1v14h-1zM595 177h1v14h-1zM594 191h1v13h-1zM593 204h1v13h-1zM252 217h1v14h-1zM413 217h1v14h-1zM592 217h1v14h-1zM232 231h1v14h-1zM253 231h1v14h-1zM591 231h1v14h-1zM254 245h1v13h-1zM255 258h1v13h-1zM230 271h1v13h-1zM256 271h1v13h-1zM410 271h1v13h-1zM257 284h1v14h-1zM258 298h1v15h-1zM228 313h1v19h-1zM259 313h1v19h-1zM260 332h1v12h-1zM407 332h1v12h-1z"/><path fill="#00ff18" d="M245 107h1v12h-1zM426 107h1v12h-1zM237 132h1v11h-1zM417 132h1v11h-1zM598 132h1v11h-1zM428 143h1v11h-1zM416 154h1v10h-1zM235 164h1v13h-1zM249 164h1v13h-1zM414 191h1v13h-1zM431 191h1v13h-1zM233 204h1v13h-1zM412 231h1v14h-1zM231 245h1v13h-1zM590 245h1v13h-1zM589 258h1v13h-1zM588 271h1v13h-1zM229 284h1v14h-1zM409 284h1v14h-1zM587 284h1v14h-1zM408 298h1v15h-1zM439 298h1v15h-1zM586 298h1v15h-1zM440 313h1v19h-1zM585 313h1v19h-1zM261 332h1v12h-1zM441 332h1v12h-1zM584 332h1v12h-1z"/><path fill="#00ff49" d="M246 107h1v12h-1zM417 119h1v13h-1zM598 119h1v13h-1zM236 132h1v11h-1zM428 132h1v11h-1zM597 132h1v11h-1zM596 143h1v11h-1zM415 154h1v10h-1zM595 154h1v10h-1zM594 164h1v13h-1zM233 177h1v14h-1zM593 177h1v14h-1zM252 191h1v13h-1zM413 191h1v13h-1zM432 191h1v13h-1zM592 191h1v13h-1zM253 204h1v13h-1zM433 204h1v13h-1zM591 204h1v13h-1zM231 217h1v14h-1zM254 217h1v14h-1zM434 217h1v14h-1zM590 217h1v14h-1zM255 231h1v14h-1zM435 231h1v14h-1zM589 231h1v14h-1zM256 245h1v13h-1zM410 245h1v13h-1zM436 245h1v13h-1zM588 245h1v13h-1zM229 258h1v13h-1zM587 258h1v13h-1zM586 271h1v13h-1zM585 284h1v14h-1zM227 298h1v15h-1zM584 298h1v15h-1zM262 313h1v19h-1zM442 313h1v19h-1zM583 313h1v19h-1zM263 332h1v12h-1zM405 332h1v12h-1zM443 332h1v12h-1zM582 332h1v12h-1z"/><path fill="#00ff31" d="M418 107h1v12h-1zM427 119h1v13h-1zM247 132h1v11h-1zM248 143h1v11h-1zM235 154h1v10h-1zM429 154h1v10h-1zM233 191h1v13h-1zM593 191h1v13h-1zM592 204h1v13h-1zM412 217h1v14h-1zM591 217h1v14h-1zM231 231h1v14h-1zM590 231h1v14h-1zM589 245h1v13h-1zM588 258h1v13h-1zM229 271h1v13h-1zM409 271h1v13h-1zM587 271h1v13h-1zM586 284h1v14h-1zM440 298h1v15h-1zM585 298h1v15h-1zM227 313h1v19h-1zM261 313h1v19h-1zM441 313h1v19h-1zM584 313h1v19h-1zM262 332h1v12h-1zM442 332h1v12h-1zM583 332h1v12h-1z"/><path fill="#2aff00" d="M239 119h1v13h-1zM238 132h1v11h-1zM427 143h1v11h-1zM247 154h1v10h-1zM236 164h1v13h-1zM429 177h1v14h-1zM596 177h1v14h-1zM415 191h1v13h-1zM595 191h1v13h-1zM234 204h1v13h-1zM250 204h1v13h-1zM594 204h1v13h-1zM251 217h1v14h-1zM233 231h1v14h-1zM413 231h1v14h-1zM433 245h1v13h-1zM434 258h1v13h-1zM231 271h1v13h-1zM411 271h1v13h-1zM435 271h1v13h-1zM436 284h1v14h-1zM589 284h1v14h-1zM437 298h1v15h-1zM588 298h1v15h-1zM438 313h1v19h-1zM587 313h1v19h-1zM408 332h1v12h-1zM439 332h1v12h-1zM586 332h1v12h-1z"/><path fill="#15ff00" d="M245 119h1v13h-1zM426 119h1v13h-1zM237 143h1v11h-1zM417 143h1v11h-1zM598 143h1v11h-1zM428 154h1v10h-1zM248 164h1v13h-1zM416 164h1v13h-1zM235 177h1v14h-1zM430 191h1v13h-1zM414 204h1v13h-1zM431 204h1v13h-1zM593 217h1v14h-1zM252 231h1v14h-1zM592 231h1v14h-1zM232 245h1v13h-1zM253 245h1v13h-1zM412 245h1v13h-1zM591 245h1v13h-1zM254 258h1v13h-1zM590 258h1v13h-1zM255 271h1v13h-1zM230 284h1v14h-1zM256 284h1v14h-1zM410 284h1v14h-1zM257 298h1v15h-1zM409 298h1v15h-1zM229 313h1v19h-1zM258 313h1v19h-1zM259 332h1v12h-1z"/><path fill="#00ff24" d="M246 119h1v13h-1zM236 143h1v11h-1zM597 143h1v11h-1zM596 154h1v10h-1zM415 164h1v13h-1zM595 164h1v13h-1zM234 177h1v14h-1zM250 177h1v14h-1zM594 177h1v14h-1zM251 191h1v13h-1zM252 204h1v13h-1zM413 204h1v13h-1zM432 204h1v13h-1zM232 217h1v14h-1zM253 217h1v14h-1zM433 217h1v14h-1zM254 231h1v14h-1zM434 231h1v14h-1zM255 245h1v13h-1zM411 245h1v13h-1zM435 245h1v13h-1zM230 258h1v13h-1zM256 258h1v13h-1zM410 258h1v13h-1zM436 258h1v13h-1zM257 271h1v13h-1zM437 271h1v13h-1zM258 284h1v14h-1zM438 284h1v14h-1zM228 298h1v15h-1zM259 298h1v15h-1zM260 313h1v19h-1zM407 313h1v19h-1zM227 332h1v12h-1zM406 332h1v12h-1z"/><path fill="#00ff55" d="M247 119h1v13h-1zM248 132h1v11h-1zM235 143h1v11h-1zM429 143h1v11h-1zM232 191h1v13h-1zM412 204h1v13h-1zM230 231h1v14h-1zM409 258h1v13h-1zM228 271h1v13h-1zM259 271h1v13h-1zM408 271h1v13h-1zM260 284h1v14h-1zM440 284h1v14h-1zM261 298h1v15h-1zM441 298h1v15h-1zM226 313h1v19h-1zM444 332h1v12h-1z"/><path fill="#00ff00" d="M418 119h1v13h-1zM246 132h1v11h-1zM236 154h1v10h-1zM597 154h1v10h-1zM596 164h1v13h-1zM249 177h1v14h-1zM234 191h1v13h-1zM250 191h1v13h-1zM251 204h1v13h-1zM233 217h1v14h-1zM432 217h1v14h-1zM433 231h1v14h-1zM434 245h1v13h-1zM231 258h1v13h-1zM411 258h1v13h-1zM435 258h1v13h-1zM436 271h1v13h-1zM589 271h1v13h-1zM437 284h1v14h-1zM588 284h1v14h-1zM229 298h1v15h-1zM438 298h1v15h-1zM587 298h1v15h-1zM408 313h1v19h-1zM439 313h1v19h-1zM586 313h1v19h-1zM228 332h1v12h-1zM440 332h1v12h-1zM585 332h1v12h-1z"/><path fill="#55ff00" d="M239 132h1v11h-1zM245 132h1v11h-1zM426 132h1v11h-1zM238 143h1v11h-1zM247 164h1v13h-1zM236 177h1v14h-1zM416 177h1v14h-1zM415 204h1v13h-1zM430 204h1v13h-1zM595 204h1v13h-1zM234 217h1v14h-1zM250 217h1v14h-1zM594 217h1v14h-1zM251 231h1v14h-1zM233 245h1v13h-1zM413 245h1v13h-1zM433 258h1v13h-1zM434 271h1v13h-1zM231 284h1v14h-1zM411 284h1v14h-1zM435 284h1v14h-1zM590 284h1v14h-1zM436 298h1v15h-1zM589 298h1v15h-1zM230 313h1v19h-1zM437 313h1v19h-1zM588 313h1v19h-1zM438 332h1v12h-1zM587 332h1v12h-1z"/><path fill="#40ff00" d="M418 132h1v11h-1zM246 143h1v11h-1zM237 154h1v10h-1zM417 154h1v10h-1zM598 154h1v10h-1zM428 164h1v13h-1zM597 164h1v13h-1zM248 177h1v14h-1zM235 191h1v13h-1zM249 191h1v13h-1zM414 217h1v14h-1zM431 217h1v14h-1zM432 231h1v14h-1zM593 231h1v14h-1zM252 245h1v13h-1zM592 245h1v13h-1zM232 258h1v13h-1zM253 258h1v13h-1zM412 258h1v13h-1zM591 258h1v13h-1zM254 271h1v13h-1zM590 271h1v13h-1zM255 284h1v14h-1zM230 298h1v15h-1zM256 298h1v15h-1zM410 298h1v15h-1zM257 313h1v19h-1zM409 313h1v19h-1zM229 332h1v12h-1zM258 332h1v12h-1z"/><path fill="#80ff00" d="M239 143h1v11h-1zM245 143h1v11h-1zM418 143h1v11h-1zM426 143h1v11h-1zM417 164h1v13h-1zM598 164h1v13h-1zM247 177h1v14h-1zM428 177h1v14h-1zM236 191h1v13h-1zM416 191h1v13h-1zM430 217h1v14h-1zM595 217h1v14h-1zM234 231h1v14h-1zM250 231h1v14h-1zM594 231h1v14h-1zM251 245h1v13h-1zM233 258h1v13h-1zM413 258h1v13h-1zM434 284h1v14h-1zM591 284h1v14h-1zM411 298h1v15h-1zM435 298h1v15h-1zM590 298h1v15h-1zM255 313h1v19h-1zM436 313h1v19h-1zM589 313h1v19h-1zM230 332h1v12h-1zM256 332h1v12h-1zM437 332h1v12h-1zM588 332h1v12h-1z"/><path fill="#95ff00" d="M238 154h2v10h-2zM246 164h1v13h-1zM427 164h1v13h-1zM237 177h1v14h-1zM597 191h1v13h-1zM248 204h1v13h-1zM429 204h1v13h-1zM596 204h1v13h-1zM235 217h1v14h-1zM249 217h1v14h-1zM415 217h1v14h-1zM234 245h1v13h-1zM414 245h1v13h-1zM431 245h1v13h-1zM594 245h1v13h-1zM251 258h1v13h-1zM432 258h1v13h-1zM593 258h1v13h-1zM252 271h1v13h-1zM433 271h1v13h-1zM592 271h1v13h-1zM232 284h1v14h-1zM253 284h1v14h-1zM412 284h1v14h-1zM254 298h1v15h-1zM231 313h1v19h-1zM410 332h1v12h-1zM589 332h1v12h-1z"/><path fill="#aaff00" d="M245 154h1v10h-1zM418 154h1v10h-1zM426 154h1v10h-1zM239 164h1v13h-1zM417 177h1v14h-1zM598 177h1v14h-1zM247 191h1v13h-1zM428 191h1v13h-1zM236 204h1v13h-1zM416 204h1v13h-1zM596 217h1v14h-1zM249 231h1v14h-1zM430 231h1v14h-1zM595 231h1v14h-1zM250 245h1v13h-1zM233 271h1v13h-1zM413 271h1v13h-1zM433 284h1v14h-1zM592 284h1v14h-1zM232 298h1v15h-1zM253 298h1v15h-1zM434 298h1v15h-1zM591 298h1v15h-1zM254 313h1v19h-1zM411 313h1v19h-1zM435 313h1v19h-1zM590 313h1v19h-1zM255 332h1v12h-1zM436 332h1v12h-1z"/><path fill="#6aff00" d="M246 154h1v10h-1zM427 154h1v10h-1zM237 164h1v13h-1zM597 177h1v14h-1zM248 191h1v13h-1zM429 191h1v13h-1zM596 191h1v13h-1zM235 204h1v13h-1zM249 204h1v13h-1zM414 231h1v14h-1zM431 231h1v14h-1zM432 245h1v13h-1zM593 245h1v13h-1zM252 258h1v13h-1zM592 258h1v13h-1zM232 271h1v13h-1zM253 271h1v13h-1zM412 271h1v13h-1zM591 271h1v13h-1zM254 284h1v14h-1zM231 298h1v15h-1zM255 298h1v15h-1zM256 313h1v19h-1zM410 313h1v19h-1zM257 332h1v12h-1zM409 332h1v12h-1z"/><path fill="#bfff00" d="M238 164h1v13h-1zM245 164h1v13h-1zM418 164h1v13h-1zM426 164h1v13h-1zM239 177h1v14h-1zM246 177h1v14h-1zM237 191h1v13h-1zM597 204h1v13h-1zM248 217h1v14h-1zM429 217h1v14h-1zM235 231h1v14h-1zM415 231h1v14h-1zM234 258h1v13h-1zM414 258h1v13h-1zM431 258h1v13h-1zM594 258h1v13h-1zM251 271h1v13h-1zM432 271h1v13h-1zM593 271h1v13h-1zM233 284h1v14h-1zM252 284h1v14h-1zM412 298h1v15h-1zM231 332h1v12h-1zM590 332h1v12h-1z"/><path fill="#eaff00" d="M238 177h1v14h-1zM245 191h2v13h-2zM418 191h1v13h-1zM426 191h2v13h-2zM237 204h1v13h-1zM247 217h1v14h-1zM597 217h1v14h-1zM248 231h1v14h-1zM429 231h1v14h-1zM415 245h1v13h-1zM595 258h1v13h-1zM234 271h1v13h-1zM250 271h1v13h-1zM414 271h1v13h-1zM431 271h1v13h-1zM594 271h1v13h-1zM251 284h1v14h-1zM432 284h1v14h-1zM233 298h1v15h-1zM412 313h1v19h-1zM592 313h1v19h-1zM232 332h1v12h-1zM253 332h1v12h-1zM591 332h1v12h-1z"/><path fill="#d4ff00" d="M245 177h1v14h-1zM418 177h1v14h-1zM426 177h2v14h-2zM239 191h1v13h-1zM417 191h1v13h-1zM598 191h1v13h-1zM247 204h1v13h-1zM428 204h1v13h-1zM236 217h1v14h-1zM416 217h1v14h-1zM596 231h1v14h-1zM235 245h1v13h-1zM249 245h1v13h-1zM430 245h1v13h-1zM595 245h1v13h-1zM250 258h1v13h-1zM413 284h1v14h-1zM593 284h1v14h-1zM252 298h1v15h-1zM433 298h1v15h-1zM592 298h1v15h-1zM232 313h1v19h-1zM253 313h1v19h-1zM434 313h1v19h-1zM591 313h1v19h-1zM254 332h1v12h-1zM411 332h1v12h-1zM435 332h1v12h-1z"/><path fill="#ffff00" d="M238 191h1v13h-1zM239 204h1v13h-1zM245 204h2v13h-2zM417 204h2v13h-2zM426 204h1v13h-1zM598 204h1v13h-1zM428 217h1v14h-1zM236 231h1v14h-1zM416 231h1v14h-1zM248 245h1v13h-1zM596 245h1v13h-1zM235 258h1v13h-1zM249 258h1v13h-1zM415 258h1v13h-1zM430 258h1v13h-1zM234 284h1v14h-1zM594 284h1v14h-1zM251 298h1v15h-1zM413 298h1v15h-1zM432 298h1v15h-1zM593 298h1v15h-1zM252 313h1v19h-1zM433 313h1v19h-1zM412 332h1v12h-1zM434 332h1v12h-1z"/><path fill="#fff800" d="M238 204h1v13h-1zM427 204h1v13h-1zM237 217h1v14h-1zM239 217h1v14h-1zM245 217h1v14h-1zM418 217h1v14h-1zM426 217h1v14h-1zM598 217h1v14h-1zM247 231h1v14h-1zM597 231h1v14h-1zM236 245h1v13h-1zM429 245h1v13h-1zM596 258h1v13h-1zM249 271h1v13h-1zM430 271h1v13h-1zM595 271h1v13h-1zM250 284h1v14h-1zM414 284h1v14h-1zM431 284h1v14h-1zM233 313h1v19h-1zM413 313h1v19h-1zM593 313h1v19h-1zM252 332h1v12h-1zM433 332h1v12h-1zM592 332h1v12h-1z"/><path fill="#fff100" d="M238 217h1v14h-1zM246 217h1v14h-1zM417 217h1v14h-1zM239 231h1v14h-1zM245 231h1v14h-1zM418 231h1v14h-1zM426 231h1v14h-1zM428 231h1v14h-1zM247 245h1v13h-1zM416 245h1v13h-1zM597 245h1v13h-1zM248 258h1v13h-1zM429 258h1v13h-1zM235 271h1v13h-1zM415 271h1v13h-1zM249 284h1v14h-1zM595 284h1v14h-1zM234 298h1v15h-1zM250 298h1v15h-1zM414 298h1v15h-1zM431 298h1v15h-1zM594 298h1v15h-1zM251 313h1v19h-1zM432 313h1v19h-1zM233 332h1v12h-1z"/><path fill="#ffea00" d="M427 217h1v14h-1zM237 231h2v14h-2zM246 231h1v14h-1zM417 231h1v14h-1zM427 231h1v14h-1zM598 231h1v14h-1zM239 245h1v13h-1zM245 245h1v13h-1zM418 245h1v13h-1zM426 245h1v13h-1zM428 245h1v13h-1zM236 258h1v13h-1zM239 258h1v13h-1zM416 258h1v13h-1zM248 271h1v13h-1zM596 271h1v13h-1zM235 284h1v14h-1zM430 284h1v14h-1zM234 313h1v19h-1zM250 313h1v19h-1zM594 313h1v19h-1zM251 332h1v12h-1zM413 332h1v12h-1zM432 332h1v12h-1zM593 332h1v12h-1z"/><path fill="#ffe300" d="M237 245h2v13h-2zM427 245h1v13h-1zM598 245h1v13h-1zM245 258h1v13h-1zM247 258h1v13h-1zM418 258h1v13h-1zM426 258h1v13h-1zM597 258h1v13h-1zM239 271h1v13h-1zM429 271h1v13h-1zM248 284h1v14h-1zM415 284h1v14h-1zM596 284h1v14h-1zM249 298h1v15h-1zM430 298h1v15h-1zM595 298h1v15h-1zM414 313h1v19h-1zM431 313h1v19h-1z"/><path fill="#ffdc00" d="M246 245h1v13h-1zM417 245h1v13h-1zM238 258h1v13h-1zM246 258h1v13h-1zM417 258h1v13h-1zM427 258h2v13h-2zM236 271h1v13h-1zM238 271h1v13h-1zM245 271h1v13h-1zM247 271h1v13h-1zM416 271h1v13h-1zM418 271h1v13h-1zM426 271h1v13h-1zM597 271h1v13h-1zM239 284h1v14h-1zM426 284h1v14h-1zM429 284h1v14h-1zM235 298h1v15h-1zM415 298h1v15h-1zM249 313h1v19h-1zM595 313h1v19h-1zM234 332h1v12h-1zM250 332h1v12h-1zM414 332h1v12h-1zM431 332h1v12h-1zM594 332h1v12h-1z"/><path fill="#ffd500" d="M237 258h1v13h-1zM598 258h1v13h-1zM237 271h1v13h-1zM246 271h1v13h-1zM417 271h1v13h-1zM427 271h2v13h-2zM598 271h1v13h-1zM236 284h1v14h-1zM238 284h1v14h-1zM245 284h1v14h-1zM247 284h1v14h-1zM416 284h1v14h-1zM418 284h1v14h-1zM597 284h1v14h-1zM239 298h1v15h-1zM248 298h1v15h-1zM426 298h1v15h-1zM429 298h1v15h-1zM596 298h1v15h-1zM235 313h1v19h-1zM415 313h1v19h-1zM430 313h1v19h-1zM249 332h1v12h-1zM595 332h1v12h-1z"/><path fill="#ffce00" d="M237 284h1v14h-1zM246 284h1v14h-1zM417 284h1v14h-1zM427 284h2v14h-2zM598 284h1v14h-1zM238 298h1v15h-1zM245 298h1v15h-1zM247 298h1v15h-1zM418 298h1v15h-1zM427 298h1v15h-1zM239 313h1v19h-1zM245 313h1v19h-1zM248 313h1v19h-1zM418 313h1v19h-1zM426 313h1v19h-1zM596 313h1v19h-1zM430 332h1v12h-1z"/><path fill="#ffc700" d="M236 298h2v15h-2zM246 298h1v15h-1zM416 298h2v15h-2zM428 298h1v15h-1zM597 298h2v15h-2zM237 313h2v19h-2zM246 313h1v19h-1zM417 313h1v19h-1zM427 313h1v19h-1zM429 313h1v19h-1zM235 332h1v12h-1zM238 332h2v12h-2zM245 332h1v12h-1zM248 332h1v12h-1zM415 332h1v12h-1zM418 332h1v12h-1zM426 332h1v12h-1zM596 332h1v12h-1z"/><path fill="#ffc000" d="M236 313h1v19h-1zM247 313h1v19h-1zM416 313h1v19h-1zM428 313h1v19h-1zM597 313h2v19h-2zM237 332h1v12h-1zM246 332h1v12h-1zM417 332h1v12h-1zM427 332h1v12h-1zM429 332h1v12h-1zM598 332h1v12h-1z"/><path fill="#ffb900" d="M236 332h1v12h-1zM247 332h1v12h-1zM416 332h1v12h-1zM428 332h1v12h-1zM597 332h1v12h-1z"/><clipPath id="c4"><rect x="111" y="722" width="489" height="141"/></clipPath><clipPath id="c3"><rect x="111" y="565" width="489" height="108"/></clipPath><path clip-path="url(#c4)" transform="translate(0,0.7)" d="M111.80,757.30 112.30,756.58 112.80,756.08 113.31,755.58 113.81,755.09 114.31,754.61 114.81,754.12 115.32,753.65 115.82,753.18 116.32,752.71 116.82,752.25 117.33,751.80 117.83,751.35 118.33,750.90 118.83,750.46 119.33,750.03 119.84,749.60 120.34,749.18 120.84,748.76 121.34,748.34 121.85,747.94 122.35,747.53 122.85,747.14 123.35,746.74 123.86,746.36 124.36,745.98 124.86,745.60 125.36,745.23 125.87,744.86 126.37,744.50 126.87,744.15 127.37,743.80 127.87,743.46 128.38,743.12 128.88,742.79 129.38,742.46 129.88,742.14 130.39,741.82 130.89,741.51 131.39,741.20 131.89,740.90 132.40,740.61 132.90,740.32 133.40,740.04 133.90,739.76 134.40,739.49 134.91,739.22 135.41,738.96 135.91,738.71 136.41,738.46 136.92,738.21 137.42,737.98 137.92,737.74 138.42,737.52 138.93,737.30 139.43,737.08 139.93,736.87 140.43,736.67 140.93,736.47 141.44,736.28 141.94,736.09 142.44,735.91 142.94,735.74 143.45,735.57 143.95,735.40 144.45,735.25 144.95,735.10 145.46,734.95 145.96,734.81 146.46,734.68 146.96,734.55 147.47,734.43 147.97,734.31 148.47,734.20 148.97,734.10 149.47,734.00 149.98,733.91 150.48,733.82 150.98,733.74 151.48,733.67 151.99,733.60 152.49,733.53 152.99,733.48 153.49,733.43 154.00,733.38 154.50,733.35 155.00,733.32 155.50,733.29 156.00,733.27 156.51,733.26 157.01,733.25 157.51,733.25 158.01,733.25 158.52,733.26 159.02,733.28 159.52,733.31 160.02,733.34 160.53,733.37 161.03,733.41 161.53,733.46 162.03,733.52 162.53,733.58 163.04,733.65 163.54,733.72 164.04,733.80 164.54,733.89 165.05,733.98 165.55,734.08 166.05,734.18 166.55,734.30 167.06,734.41 167.56,734.54 168.06,734.67 168.56,734.81 169.07,734.95 169.57,735.10 170.07,735.26 170.57,735.42 171.07,735.59 171.58,735.77 172.08,735.95 172.58,736.14 173.08,736.34 173.59,736.54 174.09,736.75 174.59,736.96 175.09,737.19 175.60,737.42 176.10,737.65 176.60,737.89 177.10,738.14 177.60,738.40 178.11,738.66 178.61,738.93 179.11,739.20 179.61,739.49 180.12,739.78 180.62,740.07 181.12,740.37 181.62,740.68 182.13,741.00 182.63,741.32 183.13,741.65 183.63,741.99 184.13,742.33 184.64,742.68 185.14,743.04 185.64,743.40 186.14,743.77 186.65,744.15 187.15,744.53 187.65,744.92 188.15,745.32 188.66,745.73 189.16,746.14 189.66,746.56 190.16,746.98 190.67,747.42 191.17,747.86 191.67,748.30 192.17,748.76 192.67,749.22 193.18,749.69 193.68,750.16 194.18,750.64 194.68,751.13 195.19,751.63 195.69,752.13 196.19,752.64 196.69,753.16 197.20,753.68 197.70,754.21 198.20,754.75 198.70,755.30 199.20,755.85 199.71,756.41 200.21,756.98 200.71,757.56 201.21,758.14 201.72,758.73 202.22,759.32 202.72,759.93 203.22,760.54 203.73,761.16 204.23,761.78 204.73,762.42 205.23,763.06 205.73,763.70 206.24,764.36 206.74,765.03 207.24,765.71 207.74,766.40 208.25,767.10 208.75,767.82 209.25,768.56 209.75,769.31 210.26,770.07 210.76,770.86 211.26,771.67 211.76,772.50 212.27,773.35 212.77,774.23 213.27,775.12 213.77,776.05 214.27,777.00 214.78,777.98 215.28,778.99 215.78,780.03 216.28,781.10 216.79,782.20 217.29,783.33 217.79,784.50 218.29,785.71 218.80,786.95 219.30,788.23 219.80,789.55 220.30,790.90 220.80,792.30 221.31,793.75 221.81,795.23 222.31,796.75 222.81,798.32 223.32,799.91 223.82,801.54 224.32,803.20 224.82,804.89 225.33,806.60 225.83,808.34 226.33,810.10 226.83,811.87 227.33,813.66 227.84,815.46 228.34,817.28 228.84,819.10 229.34,820.93 229.85,822.76 230.35,824.59 230.85,826.42 231.35,828.25 231.86,830.07 232.36,831.88 232.86,833.67 233.36,835.43 233.87,837.16 234.37,838.85 234.87,840.48 235.37,842.06 235.87,843.57 236.38,845.00 236.88,846.34 237.38,847.60 237.88,848.75 238.39,849.79 238.89,850.72 239.39,851.51 239.89,852.18 240.40,852.70 240.90,853.06 241.40,852.50M245.30,850.50 245.80,850.09 246.30,848.82 246.81,847.54 247.31,846.25 247.81,844.95 248.31,843.65 248.81,842.34 249.31,841.03 249.82,839.71 250.32,838.39 250.82,837.06 251.32,835.74 251.82,834.40 252.32,833.07 252.83,831.74 253.33,830.40 253.83,829.06 254.33,827.73 254.83,826.39 255.33,825.06 255.84,823.72 256.34,822.39 256.84,821.06 257.34,819.74 257.84,818.42 258.34,817.10 258.85,815.79 259.35,814.48 259.85,813.18 260.35,811.88 260.85,810.59 261.35,809.31 261.86,808.04 262.36,806.77 262.86,805.52 263.36,804.27 263.86,803.04 264.36,801.81 264.87,800.59 265.37,799.39 265.87,798.20 266.37,797.02 266.87,795.86 267.38,794.70 267.88,793.57 268.38,792.44 268.88,791.33 269.38,790.24 269.88,789.16 270.39,788.09 270.89,787.04 271.39,786.00 271.89,784.98 272.39,783.96 272.89,782.97 273.40,781.98 273.90,781.01 274.40,780.06 274.90,779.11 275.40,778.18 275.90,777.27 276.41,776.36 276.91,775.47 277.41,774.59 277.91,773.73 278.41,772.88 278.91,772.04 279.42,771.21 279.92,770.39 280.42,769.59 280.92,768.80 281.42,768.02 281.92,767.25 282.43,766.50 282.93,765.76 283.43,765.03 283.93,764.31 284.43,763.60 284.93,762.91 285.44,762.22 285.94,761.55 286.44,760.89 286.94,760.24 287.44,759.60 287.94,758.97 288.45,758.35 288.95,757.75 289.45,757.15 289.95,756.57 290.45,755.99 290.96,755.43 291.46,754.87 291.96,754.33 292.46,753.80 292.96,753.28 293.46,752.76 293.97,752.26 294.47,751.77 294.97,751.28 295.47,750.81 295.97,750.35 296.47,749.89 296.98,749.45 297.48,749.01 297.98,748.59 298.48,748.17 298.98,747.76 299.48,747.36 299.99,746.97 300.49,746.59 300.99,746.22 301.49,745.85 301.99,745.50 302.49,745.15 303.00,744.81 303.50,744.48 304.00,744.16 304.50,743.85 305.00,743.54 305.50,743.24 306.01,742.95 306.51,742.67 307.01,742.39 307.51,742.13 308.01,741.87 308.51,741.62 309.02,741.37 309.52,741.13 310.02,740.90 310.52,740.68 311.02,740.46 311.52,740.25 312.03,740.05 312.53,739.85 313.03,739.66 313.53,739.48 314.03,739.30 314.54,739.13 315.04,738.97 315.54,738.81 316.04,738.66 316.54,738.51 317.04,738.37 317.55,738.24 318.05,738.11 318.55,737.99 319.05,737.87 319.55,737.76 320.05,737.65 320.56,737.55 321.06,737.45 321.56,737.36 322.06,737.28 322.56,737.19 323.06,737.12 323.57,737.05 324.07,736.98 324.57,736.92 325.07,736.86 325.57,736.81 326.07,736.76 326.58,736.71 327.08,736.67 327.58,736.64 328.08,736.60 328.58,736.57 329.08,736.55 329.59,736.53 330.09,736.51 330.59,736.50 331.09,736.48 331.59,736.48 332.09,736.47 332.60,736.47 333.10,736.47 333.60,736.48 334.10,736.49 334.60,736.50 335.11,736.51 335.61,736.53 336.11,736.55 336.61,736.57 337.11,736.60 337.61,736.63 338.12,736.66 338.62,736.70 339.12,736.74 339.62,736.78 340.12,736.83 340.62,736.88 341.13,736.93 341.63,736.99 342.13,737.06 342.63,737.12 343.13,737.20 343.63,737.27 344.14,737.35 344.64,737.44 345.14,737.53 345.64,737.62 346.14,737.72 346.64,737.82 347.15,737.93 347.65,738.05 348.15,738.17 348.65,738.29 349.15,738.42 349.65,738.56 350.16,738.70 350.66,738.84 351.16,738.99 351.66,739.15 352.16,739.32 352.66,739.48 353.17,739.66 353.67,739.84 354.17,740.03 354.67,740.22 355.17,740.42 355.67,740.63 356.18,740.84 356.68,741.06 357.18,741.28 357.68,741.52 358.18,741.76 358.69,742.00 359.19,742.26 359.69,742.52 360.19,742.78 360.69,743.06 361.19,743.34 361.70,743.63 362.20,743.93 362.70,744.23 363.20,744.54 363.70,744.86 364.20,745.19 364.71,745.52 365.21,745.87 365.71,746.22 366.21,746.58 366.71,746.95 367.21,747.32 367.72,747.71 368.22,748.10 368.72,748.50 369.22,748.91 369.72,749.33 370.22,749.76 370.73,750.20 371.23,750.64 371.73,751.10 372.23,751.56 372.73,752.03 373.23,752.52 373.74,753.01 374.24,753.51 374.74,754.02 375.24,754.54 375.74,755.07 376.24,755.61 376.75,756.16 377.25,756.72 377.75,757.29 378.25,757.87 378.75,758.46 379.26,759.07 379.76,759.68 380.26,760.30 380.76,760.93 381.26,761.58 381.76,762.23 382.27,762.89 382.77,763.57 383.27,764.26 383.77,764.96 384.27,765.67 384.77,766.39 385.28,767.12 385.78,767.86 386.28,768.62 386.78,769.38 387.28,770.16 387.78,770.95 388.29,771.75 388.79,772.57 389.29,773.39 389.79,774.23 390.29,775.08 390.79,775.94 391.30,776.82 391.80,777.70 392.30,778.60 392.80,779.52 393.30,780.44 393.80,781.38 394.31,782.33 394.81,783.29 395.31,784.27 395.81,785.26 396.31,786.26 396.81,787.28 397.32,788.31 397.82,789.35 398.32,790.41 398.82,791.48 399.32,792.56 399.82,793.66 400.33,794.77 400.83,795.90 401.33,797.04 401.83,798.19 402.33,799.36 402.84,800.55 403.34,801.74 403.84,802.95 404.34,804.18 404.84,805.42 405.34,806.69 405.85,807.98 406.35,809.29 406.85,810.63 407.35,812.01 407.85,813.42 408.35,814.86 408.86,816.35 409.36,817.88 409.86,819.46 410.36,821.08 410.86,822.76 411.36,824.49 411.87,826.28 412.37,828.12 412.87,830.03 413.37,832.00 413.87,834.00 414.37,836.00 414.88,837.98 415.38,839.92 415.88,841.80 416.38,843.61 416.88,845.34 417.38,846.99 417.89,848.54 418.39,849.98 418.89,851.31 419.39,852.51 419.89,853.58 420.39,854.51 420.90,855.28 421.40,855.90 421.90,856.60 422.40,857.12 422.90,856.55 423.41,855.91 423.91,855.19 424.41,854.39 424.91,853.53 425.41,852.59 425.92,851.59 426.42,850.54 426.92,849.42 427.42,848.25 427.92,847.03 428.43,845.77 428.93,844.46 429.43,843.11 429.93,841.72 430.43,840.30 430.94,838.86 431.44,837.38 431.94,835.89 432.44,834.37 432.94,832.84 433.45,831.30 433.95,829.75 434.45,828.19 434.95,826.64 435.45,825.08 435.96,823.53 436.46,821.99 436.96,820.46 437.46,818.95 437.96,817.46 438.47,815.98 438.97,814.53 439.47,813.10 439.97,811.70 440.47,810.31 440.98,808.95 441.48,807.60 441.98,806.28 442.48,804.98 442.98,803.70 443.49,802.44 443.99,801.19 444.49,799.97 444.99,798.77 445.49,797.58 446.00,796.42 446.50,795.27 447.00,794.15 447.50,793.04 448.00,791.95 448.51,790.87 449.01,789.82 449.51,788.78 450.01,787.76 450.51,786.76 451.02,785.77 451.52,784.80 452.02,783.85 452.52,782.91 453.02,781.99 453.52,781.08 454.03,780.19 454.53,779.32 455.03,778.46 455.53,777.61 456.03,776.78 456.54,775.97 457.04,775.17 457.54,774.38 458.04,773.61 458.54,772.85 459.05,772.10 459.55,771.37 460.05,770.65 460.55,769.94 461.05,769.25 461.56,768.56 462.06,767.89 462.56,767.23 463.06,766.59 463.56,765.95 464.07,765.33 464.57,764.72 465.07,764.11 465.57,763.52 466.07,762.94 466.58,762.37 467.08,761.81 467.58,761.26 468.08,760.72 468.58,760.19 469.09,759.67 469.59,759.15 470.09,758.65 470.59,758.15 471.09,757.66 471.60,757.19 472.10,756.72 472.60,756.25 473.10,755.80 473.60,755.36 474.11,754.92 474.61,754.49 475.11,754.07 475.61,753.66 476.11,753.25 476.62,752.85 477.12,752.46 477.62,752.08 478.12,751.70 478.62,751.33 479.13,750.97 479.63,750.62 480.13,750.27 480.63,749.93 481.13,749.59 481.64,749.26 482.14,748.94 482.64,748.62 483.14,748.31 483.64,748.01 484.15,747.71 484.65,747.42 485.15,747.13 485.65,746.85 486.15,746.57 486.66,746.30 487.16,746.04 487.66,745.78 488.16,745.52 488.66,745.27 489.17,745.02 489.67,744.78 490.17,744.55 490.67,744.31 491.17,744.09 491.68,743.86 492.18,743.64 492.68,743.43 493.18,743.22 493.68,743.02 494.19,742.82 494.69,742.62 495.19,742.43 495.69,742.25 496.19,742.07 496.70,741.89 497.20,741.72 497.70,741.55 498.20,741.39 498.70,741.23 499.21,741.08 499.71,740.93 500.21,740.79 500.71,740.66 501.21,740.52 501.72,740.40 502.22,740.28 502.72,740.16 503.22,740.05 503.72,739.94 504.23,739.84 504.73,739.74 505.23,739.65 505.73,739.56 506.23,739.48 506.74,739.41 507.24,739.34 507.74,739.27 508.24,739.21 508.74,739.16 509.25,739.11 509.75,739.06 510.25,739.02 510.75,738.99 511.25,738.96 511.75,738.94 512.26,738.92 512.76,738.91 513.26,738.90 513.76,738.90 514.26,738.91 514.77,738.92 515.27,738.94 515.77,738.96 516.27,738.98 516.77,739.02 517.28,739.05 517.78,739.10 518.28,739.15 518.78,739.20 519.28,739.26 519.79,739.33 520.29,739.40 520.79,739.48 521.29,739.57 521.79,739.66 522.30,739.75 522.80,739.86 523.30,739.96 523.80,740.08 524.30,740.20 524.81,740.32 525.31,740.45 525.81,740.59 526.31,740.73 526.81,740.88 527.32,741.04 527.82,741.20 528.32,741.37 528.82,741.54 529.32,741.72 529.83,741.91 530.33,742.10 530.83,742.30 531.33,742.50 531.83,742.72 532.34,742.93 532.84,743.16 533.34,743.39 533.84,743.62 534.34,743.87 534.85,744.11 535.35,744.37 535.85,744.63 536.35,744.90 536.85,745.17 537.36,745.46 537.86,745.74 538.36,746.04 538.86,746.34 539.36,746.65 539.87,746.96 540.37,747.28 540.87,747.61 541.37,747.94 541.87,748.28 542.38,748.63 542.88,748.98 543.38,749.34 543.88,749.71 544.38,750.08 544.89,750.47 545.39,750.85 545.89,751.25 546.39,751.65 546.89,752.06 547.40,752.47 547.90,752.89 548.40,753.32 548.90,753.76 549.40,754.20 549.91,754.65 550.41,755.11 550.91,755.57 551.41,756.04 551.91,756.52 552.42,757.01 552.92,757.50 553.42,758.00 553.92,758.50 554.42,759.02 554.93,759.54 555.43,760.07 555.93,760.60 556.43,761.15 556.93,761.70 557.44,762.25 557.94,762.82 558.44,763.39 558.94,763.97 559.44,764.55 559.95,765.15 560.45,765.75 560.95,766.36 561.45,766.98 561.95,767.60 562.46,768.24 562.96,768.88 563.46,769.53 563.96,770.19 564.46,770.85 564.97,771.53 565.47,772.22 565.97,772.91 566.47,773.62 566.97,774.33 567.48,775.06 567.98,775.79 568.48,776.53 568.98,777.29 569.48,778.06 569.98,778.83 570.49,779.62 570.99,780.42 571.49,781.23 571.99,782.05 572.49,782.88 573.00,783.72 573.50,784.58 574.00,785.45 574.50,786.33 575.00,787.22 575.51,788.13 576.01,789.04 576.51,789.97 577.01,790.92 577.51,791.88 578.02,792.85 578.52,793.83 579.02,794.83 579.52,795.84 580.02,796.87 580.53,797.91 581.03,798.96 581.53,800.03 582.03,801.11 582.53,802.21 583.04,803.33 583.54,804.46 584.04,805.60 584.54,806.76 585.04,807.94 585.55,809.13 586.05,810.34 586.55,811.56 587.05,812.80 587.55,814.06 588.06,815.33 588.56,816.62 589.06,817.93 589.56,819.26 590.06,820.60 590.57,821.96 591.07,823.34 591.57,824.74 592.07,826.15 592.57,827.58 593.08,829.04 593.58,830.51 594.08,831.99 594.58,833.50 595.08,835.03 595.59,836.57 596.09,838.14 596.59,839.73 597.09,841.33 597.59,842.96 598.10,844.60 598.60,846.27 599.10,847.30" fill="none" stroke="#000" stroke-width="1.55" stroke-linejoin="round"/><path clip-path="url(#c3)" transform="translate(0,0.6)" d="M111.80,621.30 113.53,621.56 115.90,621.90 118.73,622.32 121.80,622.81 124.92,623.37 127.90,624.00 130.79,624.70 133.76,625.47 136.79,626.31 139.84,627.23 142.88,628.22 145.90,629.30 148.89,630.48 151.87,631.76 154.86,633.12 157.84,634.53 160.82,635.97 163.80,637.40 166.82,638.87 169.90,640.40 172.97,641.96 175.99,643.50 178.92,644.99 181.70,646.40 184.32,647.74 186.83,649.04 189.24,650.29 191.57,651.47 193.85,652.58 196.10,653.60 198.33,654.57 200.54,655.50 202.69,656.36 204.76,657.10 206.74,657.66 208.60,658.00 210.32,658.13 211.93,658.09 213.43,657.88 214.86,657.49 216.24,656.93 217.60,656.20 218.93,655.25 220.23,654.09 221.47,652.74 222.66,651.28 223.77,649.75 224.80,648.20 225.73,646.68 226.57,645.15 227.34,643.55 228.06,641.82 228.74,639.89 229.40,637.70 230.03,635.28 230.62,632.68 231.17,629.89 231.69,626.87 232.20,623.62 232.70,620.10 233.19,616.15 233.67,611.76 234.14,607.12 234.58,602.45 235.00,597.94 235.40,593.80 235.78,589.82 236.16,585.81 236.52,581.96 236.84,578.47 237.10,575.55 237.30,573.40 237.44,575.47 237.63,578.23 237.86,581.54 238.12,585.32 238.40,589.44 238.70,593.80 239.03,598.56 239.39,603.84 239.78,609.46 240.17,615.26 240.55,621.07 240.90,626.70 241.22,632.43 241.53,638.45 241.83,644.47 242.11,650.21 242.37,655.38 242.60,659.70 242.81,663.13 242.99,665.88 243.16,668.06 243.30,669.79 243.41,671.17 243.50,672.30 243.56,670.54 243.64,668.28 243.74,665.51 243.87,662.24 244.02,658.47 244.20,654.20 244.42,649.05 244.67,642.95 244.96,636.34 245.26,629.69 245.58,623.42 245.90,618.00 246.22,613.45 246.56,609.41 246.90,605.77 247.27,602.40 247.66,599.18 248.10,596.00 248.59,592.83 249.13,589.77 249.69,586.87 250.27,584.16 250.85,581.69 251.40,579.50 251.96,577.59 252.56,575.94 253.16,574.52 253.70,573.33 254.17,572.36 254.50,571.60 254.74,572.01 255.05,572.51 255.42,573.14 255.86,573.94 256.36,574.95 256.90,576.20 257.50,577.80 258.18,579.72 258.91,581.85 259.68,584.07 260.48,586.26 261.30,588.30 262.15,590.24 263.05,592.19 263.98,594.11 264.93,595.96 265.87,597.71 266.80,599.30 267.72,600.74 268.64,602.06 269.56,603.26 270.47,604.38 271.39,605.42 272.30,606.40 273.18,607.31 274.04,608.13 274.89,608.88 275.76,609.56 276.69,610.20 277.70,610.80 278.87,611.37 280.18,611.90 281.55,612.39 282.87,612.82 284.06,613.19 285.00,613.50 285.58,613.72 285.86,613.84 286.00,613.91 286.16,613.96 286.50,614.01 287.20,614.10 288.21,614.26 289.40,614.46 290.77,614.67 292.34,614.85 294.12,614.97 296.10,615.00 298.34,614.91 300.83,614.72 303.52,614.47 306.37,614.19 309.31,613.92 312.30,613.70 315.46,613.49 318.87,613.27 322.38,613.06 325.83,612.87 329.09,612.75 332.00,612.70 334.51,612.73 336.73,612.81 338.75,612.94 340.67,613.14 342.59,613.39 344.60,613.70 346.69,614.06 348.77,614.46 350.85,614.92 352.93,615.45 355.01,616.07 357.10,616.80 359.20,617.66 361.30,618.63 363.40,619.70 365.50,620.82 367.60,621.97 369.70,623.10 371.79,624.26 373.87,625.47 375.95,626.71 378.03,627.93 380.11,629.11 382.20,630.20 384.38,631.25 386.67,632.28 388.96,633.26 391.14,634.17 393.13,634.96 394.80,635.60 396.09,636.06 397.07,636.36 397.84,636.55 398.52,636.67 399.20,636.77 400.00,636.90 400.91,637.08 401.85,637.29 402.80,637.48 403.74,637.60 404.64,637.62 405.50,637.50 406.30,637.25 407.05,636.91 407.77,636.47 408.47,635.91 409.18,635.23 409.90,634.40 410.65,633.45 411.41,632.38 412.17,631.18 412.91,629.84 413.63,628.35 414.30,626.70 414.93,624.87 415.52,622.87 416.09,620.71 416.62,618.42 417.13,616.01 417.60,613.50 418.04,610.85 418.44,608.03 418.81,605.09 419.15,602.08 419.48,599.04 419.80,596.00 420.11,592.80 420.40,589.37 420.67,585.91 420.93,582.61 421.17,579.68 421.40,577.30 421.62,575.53 421.84,574.23 422.05,573.28 422.23,572.60 422.39,572.07 422.50,571.60 422.68,572.61 422.92,573.94 423.21,575.55 423.53,577.40 423.87,579.47 424.20,581.70 424.53,584.24 424.88,587.14 425.24,590.24 425.61,593.41 426.00,596.48 426.40,599.30 426.81,601.96 427.22,604.59 427.64,607.12 428.09,609.49 428.57,611.64 429.10,613.50 429.69,615.06 430.33,616.36 431.01,617.44 431.70,618.32 432.37,619.03 433.00,619.60 433.56,620.01 434.06,620.24 434.55,620.29 435.06,620.20 435.63,619.96 436.30,619.60 437.06,619.07 437.89,618.36 438.77,617.51 439.72,616.56 440.73,615.58 441.80,614.60 442.92,613.60 444.10,612.55 445.34,611.45 446.64,610.33 448.03,609.21 449.50,608.10 451.09,606.98 452.81,605.81 454.61,604.65 456.43,603.52 458.25,602.46 460.00,601.50 461.69,600.67 463.34,599.94 464.98,599.28 466.63,598.66 468.29,598.04 470.00,597.40 471.69,596.75 473.34,596.11 475.02,595.47 476.78,594.84 478.68,594.18 480.80,593.50 483.20,592.78 485.84,592.04 488.63,591.29 491.47,590.52 494.26,589.76 496.90,589.00 499.41,588.26 501.86,587.52 504.27,586.78 506.63,586.04 508.94,585.28 511.20,584.50 513.42,583.69 515.59,582.86 517.72,582.02 519.80,581.17 521.82,580.33 523.80,579.50 525.70,578.68 527.52,577.86 529.29,577.05 531.04,576.25 532.80,575.46 534.60,574.70 536.56,573.92 538.69,573.10 540.83,572.30 542.81,571.57 544.49,570.95 545.70,570.50 546.59,570.90 547.79,571.46 549.22,572.12 550.83,572.82 552.54,573.50 554.30,574.10 556.22,574.68 558.37,575.29 560.64,575.89 562.88,576.41 564.98,576.80 566.80,577.00 568.32,577.01 569.63,576.86 570.79,576.57 571.86,576.19 572.91,575.72 574.00,575.20 575.17,574.53 576.40,573.67 577.60,572.74 578.70,571.83 579.62,571.04 580.30,570.50 581.00,571.39 581.97,572.58 583.12,574.01 584.34,575.62 585.53,577.34 586.60,579.10 587.55,580.93 588.47,582.89 589.36,584.95 590.23,587.11 591.07,589.37 591.90,591.70 592.75,594.33 593.63,597.31 594.48,600.39 595.26,603.29 595.92,605.74 596.40,607.50 596.67,606.54 597.06,605.19 597.51,603.59 597.97,601.91 598.39,600.30 598.70,598.90 598.91,597.64 599.05,596.40 599.14,595.21 599.21,594.15 599.25,593.26 599.30,592.60" fill="none" stroke="#000" stroke-width="1.5" stroke-linejoin="round"/><clipPath id="c2"><rect x="111" y="407" width="489" height="108"/></clipPath><path clip-path="url(#c2)" d="M111.50,498.54 111.83,499.92 112.16,497.33 112.49,498.62 112.82,500.87 113.15,499.45 113.48,496.00 113.81,500.54 114.14,495.96 114.47,495.86 114.80,499.55 115.13,498.92 115.46,499.56 115.79,499.71 116.12,500.00 116.45,501.15 116.78,498.38 117.11,498.81 117.44,498.19 117.77,497.28 118.10,497.55 118.43,499.44 118.76,499.09 119.09,501.35 119.42,498.81 119.75,497.53 120.08,492.86 120.41,496.99 120.74,498.09 121.07,496.15 121.40,496.61 121.73,494.40 122.06,493.76 122.39,494.54 122.72,492.88 123.05,486.00 123.38,486.00 123.71,490.97 124.04,488.18 124.37,497.26 124.70,495.97 125.03,495.92 125.36,495.53 125.69,497.29 126.02,493.34 126.35,496.21 126.68,496.45 127.01,483.00 127.34,498.88 127.67,492.49 128.00,495.65 128.33,496.80 128.66,495.49 128.99,495.66 129.32,491.43 129.65,493.70 129.98,493.50 130.31,485.00 130.64,496.19 130.97,491.90 131.30,494.82 131.63,496.00 131.96,496.62 132.29,496.01 132.62,495.54 132.95,495.51 133.28,495.23 133.61,495.81 133.94,496.32 134.27,496.60 134.60,498.01 134.93,497.94 135.26,494.74 135.59,495.58 135.92,495.19 136.25,491.11 136.58,494.50 136.91,489.68 137.24,499.06 137.57,495.02 137.90,494.77 138.23,496.31 138.56,495.79 138.89,493.92 139.22,499.01 139.55,495.17 139.88,495.42 140.21,494.21 140.54,495.92 140.87,495.58 141.20,493.91 141.53,491.28 141.86,499.97 142.19,495.16 142.52,495.67 142.85,496.68 143.18,498.29 143.51,493.48 143.84,495.73 144.17,494.78 144.50,496.10 144.83,492.56 145.16,495.89 145.49,493.93 145.82,494.05 146.15,496.61 146.48,495.95 146.81,496.32 147.14,487.00 147.47,494.55 147.80,494.58 148.13,494.10 148.46,500.27 148.79,495.93 149.12,497.26 149.45,494.72 149.78,495.83 150.11,496.83 150.44,494.31 150.77,494.78 151.10,496.92 151.43,494.60 151.76,497.05 152.09,494.44 152.42,488.15 152.75,495.06 153.08,498.72 153.41,495.58 153.74,495.14 154.07,493.23 154.40,472.00 154.73,494.42 155.06,495.51 155.39,496.95 155.72,492.68 156.05,494.35 156.38,493.88 156.71,494.11 157.04,493.38 157.37,496.16 157.70,494.35 158.03,492.00 158.36,491.49 158.69,493.92 159.02,496.90 159.35,496.85 159.68,497.90 160.01,496.69 160.34,497.11 160.67,497.86 161.00,498.99 161.33,492.34 161.66,493.83 161.99,496.74 162.32,496.51 162.65,497.12 162.98,496.03 163.31,491.22 163.64,495.18 163.97,495.63 164.30,494.85 164.63,495.45 164.96,496.33 165.29,495.35 165.62,495.76 165.95,494.09 166.28,498.33 166.61,493.74 166.94,497.55 167.27,494.36 167.60,498.07 167.60,514.50 167.90,495.50 167.60,498.07 167.93,496.47 168.26,497.86 168.59,494.54 168.92,495.91 169.25,494.98 169.58,494.29 169.91,497.44 170.24,497.02 170.57,497.10 170.90,495.81 171.23,495.99 171.56,494.47 171.89,498.36 172.22,491.98 172.55,490.33 172.88,494.39 173.21,495.13 173.54,498.11 173.87,497.56 174.20,496.41 174.53,493.95 174.86,497.14 175.19,495.32 175.52,494.30 175.85,494.12 176.18,495.97 176.51,496.00 176.84,495.89 177.17,496.15 177.50,494.80 177.83,494.21 178.16,494.48 178.49,495.77 178.82,500.19 179.15,494.35 179.48,497.01 179.81,490.26 180.14,493.40 180.47,495.84 180.80,496.91 181.13,495.54 181.46,495.87 181.79,495.60 182.12,493.60 182.45,494.37 182.78,494.72 183.11,491.88 183.44,496.52 183.77,495.40 184.10,498.79 184.43,496.43 184.76,495.17 185.09,492.22 185.42,492.08 185.75,495.41 186.08,492.21 186.41,493.58 186.74,495.56 187.07,495.95 187.40,498.20 187.73,497.60 188.06,493.59 188.39,486.57 188.72,495.48 189.05,493.37 189.38,498.19 189.71,496.69 190.04,488.00 190.37,498.40 190.70,497.58 191.03,495.18 191.36,494.26 191.69,492.69 192.02,496.40 192.35,495.98 192.68,491.42 193.01,497.70 193.34,494.20 193.67,493.06 194.00,493.50 194.33,495.29 194.66,496.44 194.99,494.76 195.32,497.48 195.65,495.72 195.98,494.15 196.31,501.14 196.31,514.50 196.61,500.50 196.31,501.14 196.64,499.25 196.97,499.80 197.30,495.08 197.63,500.20 197.96,500.72 198.29,500.53 198.62,505.24 198.95,502.38 199.28,504.18 199.61,498.67 199.94,503.97 200.27,500.47 200.60,504.46 200.93,503.44 201.26,498.82 201.59,500.38 201.92,496.59 202.25,496.29 202.58,500.18 202.91,497.67 203.24,501.72 203.57,499.90 203.90,502.50 204.23,500.20 204.56,501.27 204.89,501.84 205.22,507.77 205.55,495.65 205.88,499.88 206.21,501.45 206.54,500.49 206.87,497.82 207.20,502.44 207.53,501.30 207.86,501.68 208.19,499.12 208.52,508.47 208.85,499.06 209.18,492.13 209.51,501.08 209.84,502.44 210.17,500.16 210.50,504.38 210.83,499.01 211.16,504.90 211.49,501.62 211.82,501.87 212.15,501.93 212.48,497.10 212.81,504.18 213.14,494.13 213.47,488.00 213.80,500.62 214.13,501.62 214.46,498.74 214.79,501.47 215.12,499.07 215.45,502.81 215.78,498.74 216.11,500.45 216.44,501.28 216.77,504.83 217.10,500.95 217.43,503.16 217.76,502.12 218.09,507.34 218.42,504.83 218.75,497.28 219.08,502.90 219.41,506.10 219.74,502.98 220.07,502.16 220.40,505.28 220.73,505.21 221.06,499.75 221.39,500.84 221.72,491.80 222.05,498.89 222.38,496.46 222.71,496.12 222.71,514.50 223.01,496.00 222.71,496.12M222.60,514.50 222.80,506.00 225.40,492.40 228.00,474.00 230.10,455.70 232.30,440.60 234.40,423.30 236.00,413.60 236.90,411.50 238.20,416.90 239.30,436.30 240.00,459.00 240.60,491.00 240.70,514.50M245.50,514.50 245.50,453.60 246.30,426.60 247.00,416.90 248.20,411.50 249.50,415.80 251.70,428.70 255.50,444.90 258.20,461.10 260.30,478.40 262.50,491.30 263.50,497.00 264.50,493.00 265.70,504.30 266.50,508.00 267.60,514.50 268.00,500.00M268.00,499.87 268.33,502.98 268.66,499.37 268.99,504.48 269.32,499.67 269.65,491.69 269.98,502.21 270.31,494.55 270.64,495.54 270.97,500.70 271.30,499.99 271.63,501.91 271.96,501.33 272.29,502.96 272.62,500.35 272.95,497.56 273.28,497.97 273.61,502.40 273.94,500.02 274.27,492.88 274.60,497.69 274.93,504.48 275.26,499.93 275.59,500.75 275.92,499.51 276.25,498.10 276.58,498.04 276.91,498.15 277.24,499.53 277.57,499.21 277.90,498.41 278.23,499.29 278.56,500.02 278.89,501.35 279.22,498.59 279.55,499.24 279.88,498.70 280.21,499.94 280.54,500.84 280.87,499.95 281.20,502.15 281.53,496.64 281.86,500.85 282.19,500.79 282.52,501.57 282.85,499.26 283.18,499.80 283.51,503.12 283.84,497.94 284.17,498.58 284.50,500.77 284.83,500.94 285.16,494.66 285.49,499.01 285.82,500.62 286.15,501.43 286.48,499.38 286.81,499.81 287.14,497.56 287.47,499.20 287.80,499.38 288.13,498.26 288.46,501.49 288.79,499.55 289.12,496.89 289.45,501.80 289.78,500.95 290.11,492.24 290.44,494.04 290.77,498.54 291.10,490.20 291.43,497.26 291.76,497.66 292.09,496.58 292.42,495.99 292.75,496.97 293.08,497.77 293.41,496.61 293.74,498.17 294.07,496.75 294.40,499.04 294.73,496.68 295.06,494.03 295.39,499.52 295.72,498.69 296.05,499.67 296.38,498.93 296.71,494.22 297.04,495.24 297.37,498.28 297.70,497.05 298.03,499.89 298.36,494.20 298.69,495.84 299.02,498.80 299.35,498.64 299.68,496.35 300.01,490.00 300.34,495.94 300.67,489.26 301.00,495.68 301.33,497.09 301.66,495.91 301.99,497.29 302.32,498.32 302.65,498.38 302.98,496.48 303.31,496.97 303.64,496.68 303.97,493.90 304.30,495.25 304.63,496.96 304.96,500.74 305.29,490.31 305.62,496.76 305.95,499.78 306.28,495.93 306.61,494.46 306.94,496.53 307.27,495.67 307.60,496.15 307.93,494.13 308.26,490.96 308.59,494.94 308.92,493.42 309.25,494.94 309.58,497.24 309.91,498.58 310.24,496.54 310.57,497.75 310.90,493.89 311.23,493.72 311.56,491.74 311.89,493.20 312.22,493.76 312.55,493.69 312.88,497.36 313.21,494.86 313.54,493.95 313.87,495.40 314.20,495.58 314.53,493.75 314.86,492.72 315.19,490.47 315.52,496.47 315.85,497.01 316.18,495.76 316.51,494.42 316.84,495.13 317.17,495.02 317.50,494.20 317.83,496.00 317.83,514.50 318.13,495.00 317.83,496.00 318.16,495.71 318.16,514.50 318.46,495.00 318.16,495.71 318.49,497.41 318.82,496.24 319.15,494.48 319.48,492.65 319.81,492.22 320.14,494.98 320.47,495.27 320.80,493.47 321.13,497.09 321.46,494.86 321.79,493.65 322.12,493.20 322.45,494.64 322.78,495.05 323.11,494.72 323.44,495.75 323.77,495.94 324.10,492.92 324.43,492.44 324.76,494.82 325.09,495.54 325.42,494.96 325.75,494.80 326.08,492.11 326.41,495.64 326.74,496.03 327.07,495.80 327.40,494.99 327.73,492.23 328.06,494.77 328.39,497.28 328.72,493.60 329.05,494.79 329.38,491.46 329.71,498.63 330.04,494.83 330.37,490.67 330.70,496.17 331.03,493.90 331.36,493.12 331.69,492.98 332.02,491.62 332.35,495.66 332.68,492.33 333.01,496.11 333.34,495.59 333.67,497.44 334.00,495.26 334.33,495.33 334.66,491.23 334.99,489.00 335.32,493.15 335.65,492.93 335.98,493.56 336.31,494.08 336.64,495.52 336.97,494.58 337.30,495.80 337.63,494.71 337.96,498.41 338.29,495.75 338.62,496.16 338.95,492.73 339.28,497.47 339.61,496.75 339.94,494.67 340.27,495.17 340.60,494.63 340.93,493.32 341.26,491.49 341.59,489.85 341.92,492.14 342.25,496.21 342.58,493.78 342.91,494.70 343.24,491.46 343.57,494.00 343.90,495.17 344.23,494.98 344.56,495.33 344.89,493.90 345.22,495.69 345.55,493.78 345.88,495.61 346.21,497.72 346.54,494.52 346.87,494.44 347.20,495.58 347.53,492.54 347.86,492.02 348.19,497.33 348.52,496.21 348.85,495.19 349.18,493.24 349.51,494.99 349.84,492.85 350.17,495.54 350.50,493.99 350.83,493.68 351.16,496.46 351.49,492.79 351.82,492.12 352.15,496.16 352.48,491.36 352.81,495.89 353.14,494.11 353.47,497.66 353.80,495.76 354.13,496.13 354.46,495.85 354.79,496.36 355.12,494.89 355.45,494.17 355.78,491.14 356.11,498.44 356.44,493.91 356.77,495.47 357.10,490.49 357.43,496.72 357.76,494.26 358.09,493.01 358.42,496.54 358.75,496.90 359.08,496.60 359.41,493.96 359.74,493.86 360.07,495.62 360.40,495.42 360.73,492.24 361.06,493.75 361.39,493.46 361.72,496.53 362.05,499.58 362.38,497.56 362.71,497.51 362.71,514.50 363.01,498.50 362.71,497.51 363.04,497.17 363.37,497.22 363.70,499.57 364.03,500.90 364.36,493.63 364.69,498.81 365.02,500.17 365.35,501.16 365.68,500.39 366.01,499.90 366.34,495.94 366.67,498.30 367.00,494.80 367.33,500.84 367.66,496.12 367.99,500.41 368.32,498.12 368.65,498.98 368.98,500.37 369.31,498.66 369.64,497.65 369.97,499.63 370.30,500.55 370.63,497.69 370.96,497.53 371.29,499.28 371.62,499.43 371.95,496.12 372.28,499.20 372.61,503.09 372.94,499.89 373.27,495.49 373.60,497.61 373.93,498.22 374.26,499.34 374.59,497.35 374.92,490.86 375.25,499.02 375.58,498.55 375.91,500.03 376.24,496.78 376.57,496.49 376.90,498.88 377.23,498.01 377.56,498.71 377.89,497.53 378.22,498.77 378.55,498.53 378.88,498.50 379.21,499.33 379.54,498.77 379.87,496.86 380.20,498.78 380.53,497.45 380.86,499.02 381.19,495.88 381.52,499.13 381.85,497.49 382.18,498.40 382.51,496.57 382.84,498.38 383.17,499.81 383.50,500.38 383.83,499.23 384.16,496.26 384.49,491.32 384.82,496.23 385.15,498.96 385.48,497.17 385.81,499.83 386.14,490.78 386.47,496.56 386.80,499.97 387.13,497.83 387.46,488.08 387.79,498.87 388.12,496.61 388.45,501.54 388.78,495.45 389.11,498.01 389.44,496.48 389.77,499.57 390.10,499.36 390.43,496.88 390.76,493.61 391.09,498.30 391.42,497.73 391.75,499.87 392.08,496.41 392.41,496.14 392.74,500.20 393.07,497.01 393.40,499.67 393.73,498.55 394.06,496.77 394.39,495.84 394.72,496.62 395.05,496.81 395.38,497.98 395.71,497.37 396.04,498.57 396.37,497.67 396.70,499.11 397.03,494.56 397.36,499.89 397.69,495.66 398.02,497.89 398.35,500.28 398.68,495.86 399.01,495.24 399.34,499.38 399.67,498.72 400.00,495.27 400.33,497.54 400.66,503.18 400.99,496.57 401.32,500.57 401.65,500.05 401.98,498.68 402.31,498.52 402.64,499.26 402.97,498.34 402.97,514.50 403.27,498.50 402.97,498.34 403.30,498.85 403.30,514.50 403.60,496.00 403.30,498.85 403.63,496.32 403.96,496.22M403.10,514.50 405.10,495.20 416.90,413.60 418.30,426.50 419.70,514.50M426.30,514.50 426.30,439.80 427.60,419.90 429.10,413.30 433.70,439.80 437.90,467.90 442.80,502.70 444.50,507.60 445.00,500.00M445.00,500.03 445.33,501.29 445.66,497.20 445.99,498.99 446.32,497.57 446.65,499.22 446.98,498.86 447.31,499.80 447.64,498.83 447.97,501.30 448.30,502.59 448.63,497.91 448.96,501.24 449.29,501.47 449.62,502.04 449.95,498.22 450.28,498.14 450.61,502.47 450.94,498.43 451.27,504.01 451.60,501.31 451.93,498.29 452.26,501.64 452.59,498.26 452.92,498.58 453.25,497.55 453.58,501.41 453.91,495.70 454.24,498.13 454.57,496.67 454.90,497.78 455.23,501.14 455.56,496.65 455.89,498.98 456.22,502.97 456.55,500.92 456.88,498.64 457.21,499.85 457.54,498.35 457.87,499.75 458.20,501.95 458.53,499.87 458.86,500.83 459.19,498.75 459.52,499.69 459.85,499.75 460.18,501.86 460.51,497.47 460.84,499.22 461.17,499.90 461.50,500.56 461.83,497.82 462.16,498.78 462.49,505.42 462.82,501.20 463.15,497.37 463.48,497.15 463.81,495.11 464.14,501.30 464.47,500.88 464.80,497.95 465.13,499.85 465.46,497.64 465.79,501.44 466.12,495.30 466.45,499.84 466.78,500.58 467.11,496.09 467.44,498.22 467.77,500.05 468.10,499.15 468.43,502.82 468.76,502.62 469.09,496.64 469.42,496.02 469.75,498.49 470.08,496.84 470.41,496.59 470.74,497.00 471.07,499.70 471.40,494.26 471.73,497.14 472.06,493.74 472.39,497.45 472.72,496.85 473.05,495.83 473.38,495.14 473.71,497.76 474.04,497.48 474.37,495.41 474.70,496.63 475.03,496.37 475.36,496.24 475.69,500.52 476.02,497.43 476.35,499.03 476.68,493.70 477.01,499.89 477.34,498.87 477.67,494.93 478.00,496.98 478.33,495.81 478.66,495.78 478.99,495.98 479.32,494.27 479.65,496.31 479.98,498.34 480.31,497.37 480.64,495.13 480.97,494.89 481.30,500.04 481.63,500.08 481.96,497.84 482.29,495.04 482.62,496.71 482.95,492.86 483.28,500.66 483.61,497.72 483.94,497.36 484.27,496.28 484.60,487.98 484.93,488.80 485.26,497.33 485.59,497.26 485.92,498.27 486.25,495.62 486.58,496.07 486.91,496.22 487.24,495.34 487.57,494.87 487.90,495.17 488.23,494.35 488.56,494.67 488.89,496.70 489.22,497.13 489.55,496.39 489.88,495.90 490.21,497.96 490.54,485.43 490.87,492.39 491.20,496.53 491.53,496.84 491.86,494.50 492.19,495.86 492.52,495.90 492.85,495.09 493.18,495.91 493.51,497.05 493.84,494.82 494.17,496.01 494.50,495.36 494.83,493.84 495.16,496.07 495.49,500.67 495.82,496.61 496.15,497.09 496.48,493.34 496.81,489.63 497.14,494.87 497.47,493.23 497.80,495.60 498.13,495.89 498.46,495.46 498.79,494.54 499.12,495.99 499.45,497.57 499.78,497.83 500.11,493.32 500.44,494.68 500.77,478.00 500.77,514.50 501.07,496.00 500.77,478.00 501.10,495.32 501.43,494.22 501.76,495.71 502.09,495.30 502.42,497.13 502.75,499.23 503.08,495.62 503.41,496.34 503.74,495.51 504.07,497.25 504.40,495.45 504.73,494.54 505.06,497.67 505.39,495.63 505.72,495.99 506.05,496.70 506.38,491.83 506.71,492.59 507.04,493.52 507.37,495.37 507.70,494.70 508.03,495.01 508.36,495.06 508.69,497.41 509.02,495.55 509.35,497.76 509.68,497.66 510.01,495.77 510.34,498.00 510.67,496.68 511.00,496.67 511.33,495.68 511.66,497.31 511.99,497.32 512.32,493.91 512.65,496.86 512.98,498.70 513.31,494.46 513.64,494.68 513.97,496.38 514.30,498.12 514.63,497.67 514.96,496.13 515.29,494.04 515.29,514.50 515.59,496.00 515.29,494.04 515.62,495.27 515.95,495.13 516.28,498.97 516.61,497.34 516.94,494.60 517.27,493.27 517.60,497.08 517.93,498.85 518.26,495.25 518.59,494.38 518.92,498.16 519.25,496.94 519.58,494.04 519.91,496.12 520.24,493.96 520.57,496.81 520.90,488.69 521.23,494.19 521.56,494.91 521.89,493.26 522.22,497.55 522.55,494.56 522.88,497.36 523.21,495.52 523.54,497.73 523.87,494.62 524.20,498.85 524.53,494.92 524.86,496.40 525.19,493.89 525.52,494.92 525.85,494.45 526.18,499.10 526.51,496.54 526.84,494.58 527.17,494.06 527.50,495.16 527.83,489.75 528.16,494.46 528.49,495.29 528.82,494.36 529.15,493.40 529.48,499.52 529.81,497.42 530.14,497.02 530.47,492.69 530.80,494.34 531.13,493.66 531.46,496.93 531.79,492.75 532.12,495.38 532.45,499.34 532.78,495.55 533.11,498.17 533.44,494.31 533.77,497.44 534.10,494.78 534.43,493.87 534.76,495.84 535.09,494.33 535.42,494.22 535.75,495.65 536.08,495.60 536.41,490.52 536.74,498.58 537.07,493.71 537.40,494.62 537.73,494.66 538.06,495.54 538.39,498.35 538.72,495.96 539.05,497.68 539.38,498.53 539.71,497.05 540.04,497.92 540.37,489.37 540.70,495.40 541.03,495.64 541.36,494.36 541.69,499.16 542.02,498.28 542.35,494.31 542.68,496.55 543.01,492.04 543.34,493.74 543.67,496.00 544.00,496.54 544.33,494.47 544.66,499.54 544.99,492.35 545.32,493.26 545.65,496.08 545.98,497.79 546.31,494.67 546.64,499.42 546.97,496.05 547.30,497.11 547.63,497.47 547.96,495.73 548.29,494.26 548.62,495.63 548.95,498.41 549.28,498.35 549.61,496.53 549.94,491.05 550.27,495.43 550.60,496.88 550.93,495.58 551.26,499.39 551.59,497.68 551.92,493.21 552.25,500.06 552.58,498.01 552.91,500.91 553.24,503.33 553.57,498.38 553.90,499.20 554.23,502.74 554.56,502.67 554.89,498.65 555.22,497.69 555.55,501.86 555.88,498.66 556.21,498.32 556.54,500.49 556.87,500.06 557.20,498.43 557.53,507.11 557.86,499.44 558.19,497.25 558.52,502.49 558.85,499.36 559.18,499.31 559.51,501.22 559.84,500.69 560.17,502.68 560.50,501.05 560.83,500.09 561.16,504.89 561.49,500.85 561.82,498.39 562.15,500.54 562.48,501.76 562.81,503.93 563.14,502.56 563.47,505.81 563.80,503.87 564.13,502.26 564.46,497.30 564.79,494.55 565.12,500.06 565.45,501.19 565.78,498.60 566.11,500.50 566.44,501.41 566.77,503.16 567.10,503.58 567.43,494.77 567.76,502.56 568.09,498.34 568.42,499.59 568.75,498.74 569.08,497.46 569.41,499.90 569.74,502.88 570.07,499.65 570.40,497.80 570.73,493.03 571.06,501.37 571.39,503.82 571.72,500.08 572.05,500.18 572.38,500.41 572.71,499.36 573.04,492.01 573.37,500.02 573.70,502.10 574.03,501.56 574.36,495.72 574.69,499.44 575.02,502.75 575.35,503.75 575.68,501.36 576.01,503.36 576.34,499.47 576.67,503.97 577.00,502.42 577.33,503.21 577.66,493.99 577.99,501.13 578.32,497.84 578.65,499.02 578.98,502.87 579.31,499.70 579.64,503.20 579.97,499.21 580.30,503.08 580.30,514.50 580.60,500.50 580.30,503.08 580.63,504.01 580.63,514.50 580.93,500.50 580.63,504.01 580.96,499.64 581.29,499.51 581.62,503.74 581.95,493.56M581.80,494.40 589.30,449.70 595.90,419.90 597.90,413.00 599.50,412.00" fill="none" stroke="#000" stroke-width="1.35" stroke-linejoin="round"/>
<rect x="613" y="57" width="14" height="300" fill="url(#cb)"/>
<path d="M111 55.5H600M111.5 55V358M599.5 55V358M111 357.5H600M112.5 358v10M132.5 358v5M152.5 358v5M172.5 358v5M193.5 358v5M213.5 358v5M233.5 358v10M254.5 358v5M274.5 358v5M294.5 358v5M314.5 358v5M335.5 358v5M355.5 358v10M375.5 358v5M396.5 358v5M416.5 358v5M436.5 358v5M457.5 358v5M477.5 358v10M497.5 358v5M517.5 358v5M538.5 358v5M558.5 358v5M578.5 358v5M599.5 358v10M111 407.5H600M111.5 407V515M599.5 407V515M111 514.5H600M112.5 515v10M132.5 515v5M152.5 515v5M172.5 515v5M193.5 515v5M213.5 515v5M233.5 515v10M254.5 515v5M274.5 515v5M294.5 515v5M314.5 515v5M335.5 515v5M355.5 515v10M375.5 515v5M396.5 515v5M416.5 515v5M436.5 515v5M457.5 515v5M477.5 515v10M497.5 515v5M517.5 515v5M538.5 515v5M558.5 515v5M578.5 515v5M599.5 515v10M111 565.5H600M111.5 565V673M599.5 565V673M111 672.5H600M112.5 673v10M132.5 673v5M152.5 673v5M172.5 673v5M193.5 673v5M213.5 673v5M233.5 673v10M254.5 673v5M274.5 673v5M294.5 673v5M314.5 673v5M335.5 673v5M355.5 673v10M375.5 673v5M396.5 673v5M416.5 673v5M436.5 673v5M457.5 673v5M477.5 673v10M497.5 673v5M517.5 673v5M538.5 673v5M558.5 673v5M578.5 673v5M599.5 673v10M111 722.5H600M111.5 722V863M599.5 722V863M111 862.5H600M112.5 863v10M132.5 863v5M152.5 863v5M172.5 863v5M193.5 863v5M213.5 863v5M233.5 863v10M254.5 863v5M274.5 863v5M294.5 863v5M314.5 863v5M335.5 863v5M355.5 863v10M375.5 863v5M396.5 863v5M416.5 863v5M436.5 863v5M457.5 863v5M477.5 863v10M497.5 863v5M517.5 863v5M538.5 863v5M558.5 863v5M578.5 863v5M599.5 863v10M106 357.5H111M106 340.5H111M106 327.5H111M106 315.5H111M106 304.5H111M101 295.5H111M106 234.5H111M106 198.5H111M106 172.5H111M106 153.5H111M106 136.5H111M106 123.5H111M106 111.5H111M106 100.5H111M101 91.5H111M106 513.5H111M106 510.5H111M106 507.5H111M106 505.5H111M106 504.5H111M106 502.5H111M106 501.5H111M101 499.5H111M106 491.5H111M106 487.5H111M106 483.5H111M106 481.5H111M106 479.5H111M106 477.5H111M106 475.5H111M106 474.5H111M101 473.5H111M106 465.5H111M106 460.5H111M106 457.5H111M106 454.5H111M106 452.5H111M106 450.5H111M106 449.5H111M106 447.5H111M101 446.5H111M106 438.5H111M106 433.5H111M106 430.5H111M106 427.5H111M106 425.5H111M106 423.5H111M106 422.5H111M106 420.5H111M101 419.5H111M106 411.5H111M101 670.5H111M106 668.5H111M106 665.5H111M106 663.5H111M106 660.5H111M101 658.5H111M106 655.5H111M106 653.5H111M106 650.5H111M106 648.5H111M101 645.5H111M106 643.5H111M106 640.5H111M106 638.5H111M106 635.5H111M101 633.5H111M106 630.5H111M106 628.5H111M106 625.5H111M106 623.5H111M101 620.5H111M106 618.5H111M106 615.5H111M106 613.5H111M106 610.5H111M101 608.5H111M106 605.5H111M106 603.5H111M106 600.5H111M106 598.5H111M101 595.5H111M106 593.5H111M106 590.5H111M106 588.5H111M106 585.5H111M101 583.5H111M106 580.5H111M106 578.5H111M106 575.5H111M106 573.5H111M101 570.5H111M106 568.5H111M106 565.5H111M106 860.5H111M106 857.5H111M101 855.5H111M106 852.5H111M106 850.5H111M106 848.5H111M106 845.5H111M106 843.5H111M106 840.5H111M106 838.5H111M106 836.5H111M106 833.5H111M101 831.5H111M106 828.5H111M106 826.5H111M106 823.5H111M106 821.5H111M106 819.5H111M106 816.5H111M106 814.5H111M106 811.5H111M106 809.5H111M101 807.5H111M106 804.5H111M106 802.5H111M106 799.5H111M106 797.5H111M106 794.5H111M106 792.5H111M106 790.5H111M106 787.5H111M106 785.5H111M101 782.5H111M106 780.5H111M106 777.5H111M106 775.5H111M106 773.5H111M106 770.5H111M106 768.5H111M106 765.5H111M106 763.5H111M106 761.5H111M101 758.5H111M106 756.5H111M106 753.5H111M106 751.5H111M106 748.5H111M106 746.5H111M106 744.5H111M106 741.5H111M106 739.5H111M106 736.5H111M101 734.5H111M106 731.5H111M106 729.5H111M106 727.5H111M106 724.5H111M106 722.5H111M627.5 56V358M613 357.5H628M627 357.5h6M627 322.5h11M627 287.5h6M627 252.5h11M627 217.5h6M627 182.5h11M627 147.5h6M627 112.5h11M627 77.5h6" stroke="#000" stroke-width="1" fill="none" shape-rendering="crispEdges"/>
<g font-family="Liberation Sans, sans-serif" fill="#000" style="white-space:pre">
<text x="116.00" y="46" font-size="14" textLength="39.76" lengthAdjust="spacingAndGlyphs">RPS-B</text><text x="164.34" y="46" font-size="14" textLength="97.71" lengthAdjust="spacingAndGlyphs">Unidirectional,</text><text x="266.34" y="46" font-size="14" textLength="73.14" lengthAdjust="spacingAndGlyphs">differential</text><text x="343.78" y="46" font-size="14" textLength="25.06" lengthAdjust="spacingAndGlyphs">flux</text><text x="373.13" y="46" font-size="14" textLength="15.03" lengthAdjust="spacingAndGlyphs">vs</text><text x="392.46" y="46" font-size="14" textLength="47.06" lengthAdjust="spacingAndGlyphs">energy</text><text x="443.81" y="46" font-size="14" textLength="63.12" lengthAdjust="spacingAndGlyphs">(Isotropic</text><text x="511.22" y="46" font-size="14" textLength="83.78" lengthAdjust="spacingAndGlyphs">assumption)</text><text x="228.05" y="398" font-size="14" textLength="26.44" lengthAdjust="spacingAndGlyphs">RPS</text><text x="263.19" y="398" font-size="14" textLength="34.45" lengthAdjust="spacingAndGlyphs">Dose</text><text x="301.98" y="398" font-size="14" textLength="27.79" lengthAdjust="spacingAndGlyphs">rate</text><text x="334.12" y="398" font-size="14" textLength="12.47" lengthAdjust="spacingAndGlyphs">in</text><text x="350.94" y="398" font-size="14" textLength="70.98" lengthAdjust="spacingAndGlyphs">Dosimeter</text><text x="426.28" y="398" font-size="14" textLength="8.70" lengthAdjust="spacingAndGlyphs">1</text><text x="439.33" y="398" font-size="14" textLength="43.22" lengthAdjust="spacingAndGlyphs">(front)</text><text x="126.10" y="556" font-size="14" textLength="68.95" lengthAdjust="spacingAndGlyphs">Equatorial</text><text x="199.35" y="556" font-size="14" textLength="33.66" lengthAdjust="spacingAndGlyphs">pitch</text><text x="237.31" y="556" font-size="14" textLength="37.53" lengthAdjust="spacingAndGlyphs">angle</text><text x="279.14" y="556" font-size="14" textLength="13.04" lengthAdjust="spacingAndGlyphs">of</text><text x="296.48" y="556" font-size="14" textLength="51.02" lengthAdjust="spacingAndGlyphs">particle</text><text x="351.80" y="556" font-size="14" textLength="28.70" lengthAdjust="spacingAndGlyphs">with</text><text x="384.80" y="556" font-size="14" textLength="17.21" lengthAdjust="spacingAndGlyphs">90</text><text x="406.31" y="556" font-size="14" textLength="47.41" lengthAdjust="spacingAndGlyphs">degree</text><text x="458.02" y="556" font-size="14" textLength="33.66" lengthAdjust="spacingAndGlyphs">pitch</text><text x="495.98" y="556" font-size="14" textLength="37.53" lengthAdjust="spacingAndGlyphs">angle</text><text x="537.81" y="556" font-size="14" textLength="12.33" lengthAdjust="spacingAndGlyphs">in</text><text x="554.44" y="556" font-size="14" textLength="29.46" lengthAdjust="spacingAndGlyphs">OPQ</text><text x="204.80" y="713" font-size="14" textLength="57.10" lengthAdjust="spacingAndGlyphs">McIlwain</text><text x="266.09" y="713" font-size="14" textLength="7.35" lengthAdjust="spacingAndGlyphs">L</text><text x="277.64" y="713" font-size="14" textLength="12.72" lengthAdjust="spacingAndGlyphs">of</text><text x="294.55" y="713" font-size="14" textLength="42.22" lengthAdjust="spacingAndGlyphs">locally</text><text x="340.96" y="713" font-size="14" textLength="60.74" lengthAdjust="spacingAndGlyphs">mirroring</text><text x="405.90" y="713" font-size="14" textLength="49.76" lengthAdjust="spacingAndGlyphs">particle</text><text x="459.85" y="713" font-size="14" textLength="12.03" lengthAdjust="spacingAndGlyphs">in</text><text x="476.07" y="713" font-size="14" textLength="28.73" lengthAdjust="spacingAndGlyphs">OPQ</text><text x="87.2" y="92.20000000000002" font-size="14" text-anchor="start" textLength="8.8" lengthAdjust="spacingAndGlyphs">3</text><text x="87.10000000000001" y="99.20000000000002" font-size="14" text-anchor="end" textLength="17.5" lengthAdjust="spacingAndGlyphs">10</text><text x="87.2" y="296.20000000000005" font-size="14" text-anchor="start" textLength="8.8" lengthAdjust="spacingAndGlyphs">2</text><text x="87.10000000000001" y="303.20000000000005" font-size="14" text-anchor="end" textLength="17.5" lengthAdjust="spacingAndGlyphs">10</text><text x="83.0" y="419.8" font-size="14" text-anchor="start" textLength="13.0" lengthAdjust="spacingAndGlyphs">-3</text><text x="82.1" y="426.8" font-size="14" text-anchor="end" textLength="17.6" lengthAdjust="spacingAndGlyphs">10</text><text x="83.0" y="446.53000000000003" font-size="14" text-anchor="start" textLength="13.0" lengthAdjust="spacingAndGlyphs">-4</text><text x="82.1" y="453.53000000000003" font-size="14" text-anchor="end" textLength="17.6" lengthAdjust="spacingAndGlyphs">10</text><text x="83.0" y="473.26" font-size="14" text-anchor="start" textLength="13.0" lengthAdjust="spacingAndGlyphs">-5</text><text x="82.1" y="480.26" font-size="14" text-anchor="end" textLength="17.6" lengthAdjust="spacingAndGlyphs">10</text><text x="83.0" y="499.99" font-size="14" text-anchor="start" textLength="13.0" lengthAdjust="spacingAndGlyphs">-6</text><text x="82.1" y="506.99" font-size="14" text-anchor="end" textLength="17.6" lengthAdjust="spacingAndGlyphs">10</text><text x="96" y="675.3" font-size="14" text-anchor="end" textLength="21" lengthAdjust="spacingAndGlyphs">50.</text><text x="96" y="662.8" font-size="14" text-anchor="end" textLength="21" lengthAdjust="spacingAndGlyphs">55.</text><text x="96" y="650.3" font-size="14" text-anchor="end" textLength="21" lengthAdjust="spacingAndGlyphs">60.</text><text x="96" y="637.8" font-size="14" text-anchor="end" textLength="21" lengthAdjust="spacingAndGlyphs">65.</text><text x="96" y="625.3" font-size="14" text-anchor="end" textLength="21" lengthAdjust="spacingAndGlyphs">70.</text><text x="96" y="612.8" font-size="14" text-anchor="end" textLength="21" lengthAdjust="spacingAndGlyphs">75.</text><text x="96" y="600.3" font-size="14" text-anchor="end" textLength="21" lengthAdjust="spacingAndGlyphs">80.</text><text x="96" y="587.8" font-size="14" text-anchor="end" textLength="21" lengthAdjust="spacingAndGlyphs">85.</text><text x="96" y="575.3" font-size="14" text-anchor="end" textLength="21" lengthAdjust="spacingAndGlyphs">90.</text><text x="96" y="860.1999999999999" font-size="14" text-anchor="end" textLength="14" lengthAdjust="spacingAndGlyphs">1.</text><text x="96" y="835.9999999999999" font-size="14" text-anchor="end" textLength="14" lengthAdjust="spacingAndGlyphs">2.</text><text x="96" y="811.8" font-size="14" text-anchor="end" textLength="14" lengthAdjust="spacingAndGlyphs">3.</text><text x="96" y="787.5999999999999" font-size="14" text-anchor="end" textLength="14" lengthAdjust="spacingAndGlyphs">4.</text><text x="96" y="763.4" font-size="14" text-anchor="end" textLength="14" lengthAdjust="spacingAndGlyphs">5.</text><text x="96" y="739.1999999999999" font-size="14" text-anchor="end" textLength="14" lengthAdjust="spacingAndGlyphs">6.</text><text x="642.8" y="120.29999999999995" font-size="14" text-anchor="start" textLength="17.5" lengthAdjust="spacingAndGlyphs">10</text><text x="660.6" y="113.29999999999995" font-size="14" text-anchor="start" textLength="8.8" lengthAdjust="spacingAndGlyphs">2</text><text x="642.8" y="190.19999999999996" font-size="14" text-anchor="start" textLength="17.5" lengthAdjust="spacingAndGlyphs">10</text><text x="660.6" y="183.19999999999996" font-size="14" text-anchor="start" textLength="8.8" lengthAdjust="spacingAndGlyphs">0</text><text x="642.8" y="260.09999999999997" font-size="14" text-anchor="start" textLength="17.5" lengthAdjust="spacingAndGlyphs">10</text><text x="660.6" y="253.09999999999997" font-size="14" text-anchor="start" textLength="12.8" lengthAdjust="spacingAndGlyphs">-2</text><text x="642.8" y="330.0" font-size="14" text-anchor="start" textLength="17.5" lengthAdjust="spacingAndGlyphs">10</text><text x="660.6" y="323.0" font-size="14" text-anchor="start" textLength="12.8" lengthAdjust="spacingAndGlyphs">-4</text><g transform="translate(684.6,120.8) rotate(90)"><text x="0" y="0" font-size="14" textLength="30.28" lengthAdjust="spacingAndGlyphs">FPDI</text><text x="34.57" y="0" font-size="14" textLength="135.4" lengthAdjust="spacingAndGlyphs">(#/cm^2/s/sr/MeV)</text></g><g transform="translate(54.7,260.2) rotate(-90)"><text x="-1.1" y="0" font-size="14" textLength="30.28" lengthAdjust="spacingAndGlyphs">FPDI</text><text x="30.3" y="3.4" font-size="9.3" textLength="31.5" lengthAdjust="spacingAndGlyphs">Energy</text><text x="67.4" y="0" font-size="14" textLength="39.7" lengthAdjust="spacingAndGlyphs">(MeV)</text></g><text transform="translate(52.3,461) rotate(-90)" font-size="14" text-anchor="middle" textLength="67.27" lengthAdjust="spacingAndGlyphs">(rads/sec)</text><g transform="translate(55.5,653) rotate(-90)"><text x="-0.5" y="0" font-size="14" textLength="8.9" lengthAdjust="spacingAndGlyphs">α</text><text x="7.5" y="7.7" font-size="14" textLength="17.1" lengthAdjust="spacingAndGlyphs">Eq</text><text x="31.2" y="0" font-size="14" textLength="36" lengthAdjust="spacingAndGlyphs">(deg)</text></g><g transform="translate(64.7,811.9) rotate(-90)"><text x="-1.2" y="0" font-size="14" textLength="7.5" lengthAdjust="spacingAndGlyphs">L</text><text x="10.3" y="0" font-size="14" textLength="5.27" lengthAdjust="spacingAndGlyphs">(</text><text x="15" y="0" font-size="14" textLength="9.38" lengthAdjust="spacingAndGlyphs">R</text><text x="24.9" y="7.3" font-size="14" textLength="8.53" lengthAdjust="spacingAndGlyphs">E</text><text x="34" y="0" font-size="14" textLength="5.27" lengthAdjust="spacingAndGlyphs">)</text></g><text x="132.5" y="890.7" font-size="14" text-anchor="end" textLength="38.9" lengthAdjust="spacingAndGlyphs">00:00</text><text x="253.5" y="890.7" font-size="14" text-anchor="end" textLength="38.9" lengthAdjust="spacingAndGlyphs">06:00</text><text x="374.8" y="890.7" font-size="14" text-anchor="end" textLength="38.9" lengthAdjust="spacingAndGlyphs">12:00</text><text x="497.8" y="890.7" font-size="14" text-anchor="end" textLength="38.9" lengthAdjust="spacingAndGlyphs">18:00</text><text x="619.5" y="890.7" font-size="14" text-anchor="end" textLength="38.9" lengthAdjust="spacingAndGlyphs">00:00</text><text x="132.5" y="907.8" font-size="14" text-anchor="end" textLength="38.65" lengthAdjust="spacingAndGlyphs">4.927</text><text x="253.5" y="907.8" font-size="14" text-anchor="end" textLength="38.65" lengthAdjust="spacingAndGlyphs">1.810</text><text x="374.8" y="907.8" font-size="14" text-anchor="end" textLength="38.65" lengthAdjust="spacingAndGlyphs">5.535</text><text x="497.8" y="907.8" font-size="14" text-anchor="end" textLength="38.65" lengthAdjust="spacingAndGlyphs">5.133</text><text x="619.5" y="907.8" font-size="14" text-anchor="end" textLength="38.65" lengthAdjust="spacingAndGlyphs">1.254</text><text x="132.5" y="924.6" font-size="14" text-anchor="end" textLength="43.52" lengthAdjust="spacingAndGlyphs">-9.626</text><text x="253.5" y="924.6" font-size="14" text-anchor="end" textLength="43.52" lengthAdjust="spacingAndGlyphs">-6.378</text><text x="374.8" y="924.6" font-size="14" text-anchor="end" textLength="52.11" lengthAdjust="spacingAndGlyphs">-10.350</text><text x="497.8" y="924.6" font-size="14" text-anchor="end" textLength="38.65" lengthAdjust="spacingAndGlyphs">2.549</text><text x="619.5" y="924.6" font-size="14" text-anchor="end" textLength="38.65" lengthAdjust="spacingAndGlyphs">8.593</text><text x="132.5" y="941.8" font-size="14" text-anchor="end" textLength="47.24" lengthAdjust="spacingAndGlyphs">11.710</text><text x="253.5" y="941.8" font-size="14" text-anchor="end" textLength="47.24" lengthAdjust="spacingAndGlyphs">18.750</text><text x="374.8" y="941.8" font-size="14" text-anchor="end" textLength="47.24" lengthAdjust="spacingAndGlyphs">13.270</text><text x="497.8" y="941.8" font-size="14" text-anchor="end" textLength="47.24" lengthAdjust="spacingAndGlyphs">11.690</text><text x="619.5" y="941.8" font-size="14" text-anchor="end" textLength="47.24" lengthAdjust="spacingAndGlyphs">21.430</text><text x="132.5" y="958.7" font-size="14" text-anchor="end" textLength="38.65" lengthAdjust="spacingAndGlyphs">5.069</text><text x="253.5" y="958.7" font-size="14" text-anchor="end" textLength="38.65" lengthAdjust="spacingAndGlyphs">1.832</text><text x="374.8" y="958.7" font-size="14" text-anchor="end" textLength="38.65" lengthAdjust="spacingAndGlyphs">5.720</text><text x="497.8" y="958.7" font-size="14" text-anchor="end" textLength="38.65" lengthAdjust="spacingAndGlyphs">5.143</text><text x="619.5" y="958.7" font-size="14" text-anchor="end" textLength="38.65" lengthAdjust="spacingAndGlyphs">1.283</text><text x="72.5" y="905.9" font-size="14" text-anchor="end">R<tspan font-size="10" dy="4">E</tspan></text><text x="72.5" y="922.9" font-size="14" text-anchor="end" textLength="32.74" lengthAdjust="spacingAndGlyphs">MLat</text><text x="72.5" y="940" font-size="14" text-anchor="end" textLength="25.56" lengthAdjust="spacingAndGlyphs">MLT</text><text x="72.5" y="957" font-size="14" text-anchor="end" textLength="7.52" lengthAdjust="spacingAndGlyphs">L</text><text x="293.95" y="980.2" font-size="14" textLength="82.05" lengthAdjust="spacingAndGlyphs">2019-06-19</text><text x="380.49" y="980.2" font-size="14" textLength="37.96" lengthAdjust="spacingAndGlyphs">(170)</text>
</g>
</svg></body></html>
